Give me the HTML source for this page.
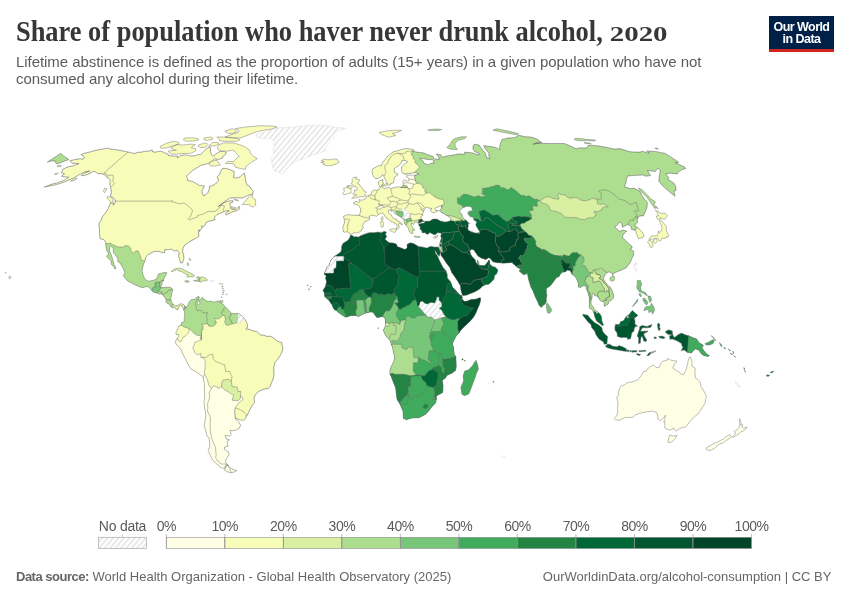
<!DOCTYPE html>
<html lang="en">
<head>
<meta charset="utf-8">
<title>Share of population who haver never drunk alcohol, 2020</title>
<style>
html,body{margin:0;padding:0;background:#fff;}
body{width:850px;height:600px;overflow:hidden;position:relative;font-family:"Liberation Sans",sans-serif;}
#chart{position:absolute;left:0;top:0;width:850px;height:600px;}
h1{position:absolute;left:16px;top:14px;margin:0;font-family:"Liberation Serif",serif;font-weight:bold;font-size:28.5px;line-height:36px;color:#373737;white-space:nowrap;transform:scaleX(0.9263);transform-origin:0 0;}
h1 .yr{display:inline-block;font-size:20.8px;transform:scaleX(1.5);transform-origin:0 100%;}
#sub{position:absolute;left:16px;top:52.7px;margin:0;font-size:15px;line-height:17.5px;color:#5b5b5b;white-space:nowrap;letter-spacing:-0.052px;}
#logo{position:absolute;left:769px;top:16px;width:65px;height:33px;background:#002147;border-bottom:3px solid #ce261e;color:#fff;font-weight:bold;font-size:12.5px;line-height:12px;text-align:center;letter-spacing:-0.55px;}
#logo span{display:block;}
#logo span:first-child{margin-top:5px;}
#src{position:absolute;left:16px;top:568.5px;margin:0;font-size:13px;line-height:16px;color:#666;white-space:nowrap;letter-spacing:0.015px;}
#src b{letter-spacing:-0.5px;}
#url{position:absolute;right:18.6px;top:568.5px;margin:0;font-size:13px;line-height:16px;color:#666;white-space:nowrap;}
svg text{font-family:"Liberation Sans",sans-serif;font-size:14px;fill:#5b5b5b;letter-spacing:-0.5px;}
svg text.nd{letter-spacing:-0.25px;}
#map path{stroke:#6b6b6b;stroke-width:0.45;stroke-linejoin:round;}
#map path.nd{stroke:#dcdcdc;}
</style>
</head>
<body>
<svg id="chart" width="850" height="600" viewBox="0 0 850 600">
<defs>
<pattern id="hatch" patternUnits="userSpaceOnUse" width="4.15" height="4.15" patternTransform="rotate(40)">
<rect width="4.15" height="4.15" fill="#fff"/>
<rect x="0" y="0" width="1.7" height="4.15" fill="#e7e7e7"/>
</pattern>
<clipPath id="c_na"><path d="M70,160.8 74.6,159.5 80.5,158.6 83.1,159.2 84,157.6 83.6,156.1 80.8,154.7 83.7,153.4 91.9,151.4 95.3,150.3 101.7,149.2 107.8,148 110.3,149 113.2,149.2 118.6,150.1 122.7,150.8 127.9,151.9 131,152.7 134.4,153.4 137.4,152.3 141,152.1 145.4,151.2 149,151 152.2,149.7 152.4,151.6 155.2,152.1 158.4,151.4 161.8,151.4 165.1,153 168.2,154.1 168.4,155.6 174.1,155.9 177.5,155.9 177.4,157.9 180.6,155.6 184.5,154.7 188.1,155.4 191.1,155.9 195.6,155.6 198.4,154.3 200.6,154.7 203,151.9 205.7,149.2 210,146.7 210.6,148.8 210.3,151 210.9,152.3 211.2,154.1 212.9,156.3 215.4,154.1 220,151.4 224.1,151.4 226.5,152.7 225.6,154.5 222.2,157.2 222.8,158.1 218.4,159.5 214.4,159 212.1,161.1 208.9,163.1 205.2,164.5 201.5,165.2 197.7,167.5 193.2,170.1 189.1,173.5 186.5,176.3 187.2,177.1 187.8,180.5 192.4,181.2 195.2,182.9 199.5,185.4 204.5,185.9 202.2,190.6 202.3,193.1 203,195.3 205.3,195.1 208,192.3 209.4,188.6 209.3,186.6 213.8,184.9 217,182.4 218.5,180 217,177.1 219.9,173.9 220.9,170.6 222.5,168.3 226.8,168.5 231.3,170.1 234.2,171.6 234.2,175.1 233.3,177.1 236,178 239.9,176.8 242.4,174.4 244.5,173 245.3,177.3 245.9,181.2 246.9,184.6 250,186.6 251.4,189.1 253.5,191.6 252.6,194.1 248.9,195.1 245.4,196.8 241.9,198.1 236,197.8 229.9,198.1 226.5,200.4 221.8,203.9 218.2,206.5 220.9,204.7 224.3,202.4 228.9,200.9 232.8,200.6 232.9,202.2 229.9,203.4 230.5,206.2 230.3,208.3 232.8,209.3 235.7,209.3 239.3,206.2 239.8,208.8 237,210.6 231.3,212.4 226,215.2 225.4,213.2 229.1,210.6 226.6,210.8 224.3,211.6 220.6,213.2 217,214.7 214.9,216.8 214.1,218.6 215.4,219.6 213.1,220.4 208.5,221.4 206,222.7 205.1,225.1 202.8,227.1 201.9,225.8 201.9,228.4 199.5,231.6 199,229.7 198.3,232.1 198.8,233.4 198.9,236.5 196.3,238.1 193,239.9 189.9,241.5 187.2,243.6 184.6,245.2 183,248.5 182.7,251.7 183.7,254.8 184,258.7 182.8,262.4 180.8,263.2 179.7,260.3 178.5,256.1 179.1,253 177.2,250.4 174.4,251.2 171.5,249.3 168.1,249.6 164.7,249.9 164.7,252.7 161.9,252.5 158.8,251.4 154.4,251.4 151.8,252.7 148,254.8 145.7,257.2 145.1,260.8 143.3,264.8 142.1,270.5 142.9,274.4 144.4,278.1 145.9,279.9 148,281.2 151.5,280.7 153.8,280.2 156.2,279.1 157.7,276.5 158.3,273.9 161.6,273.1 165.1,272.6 166.7,272.6 166.2,274.7 164.4,277.8 163.3,281 162.4,281 162.1,283.1 161.6,285.7 160,287.2 161.6,287.8 164.3,287.5 166.6,287.2 168.9,287.2 171.2,287.8 172.8,289.6 172.1,292.2 171.7,294.8 171,297.4 170.8,300 171.4,301.6 172.9,303.7 173.9,305 175.5,305.8 177.8,305.3 179.5,304.2 181.4,303.7 183.6,304.5 184.9,306.1 185.1,307.9 183.6,310 182.8,307.6 181.9,306.1 180.1,305.5 178.6,307.4 178.1,309.5 176.5,309.7 175.8,308.4 174.3,307.4 172.2,307.6 171.3,306.8 170.4,306.3 169.2,304 167.4,303.4 165.8,301.9 166.2,299.8 164.6,297.4 162.9,295.1 161.9,294 159.1,294 156.7,293 153.6,292.2 152.1,290.9 149.5,287.8 147.3,286.5 145.7,286.7 142.6,287.8 139.3,286.7 135.2,284.9 131.8,283.1 127.6,281 124.6,277.8 123.4,275.5 124.8,272.6 123.1,268.2 120.4,263.4 117.6,261.6 118,259 116.3,256.1 113.5,253 113.2,248.3 110.4,245.9 109.3,247.8 109.6,251.2 111.5,255.6 113.1,260.8 114,264.8 116.1,268.2 114.8,268.9 114.3,267.1 111.2,264.2 111.3,260.8 108.7,258.7 106.4,256.1 108.8,254 106.5,249.9 105.8,245.9 105.6,243.8 105.8,242 104,239.9 99.9,238.6 99.4,233.1 99.6,230 98.9,225.6 98.8,223.2 101.4,219.6 102,217 105.6,212.6 108.3,208.3 110.4,202.7 113.4,203.4 113.4,205.2 115,202.4 115.2,201.1 115.1,200.1 113.4,197.8 110.3,196.1 111.2,192.8 111.2,189.8 110.3,187.8 111,186.6 109.9,185.6 109.8,182.4 110.1,180 108.9,178.3 107.3,178 106.2,176.6 104.4,174.9 102.1,173.9 97.7,173.7 95.8,172 93,171.6 89.2,173.9 84.6,175.6 81.2,175.6 85,172.7 89.6,171.1 84.8,172 78.6,175.1 73.9,178 66.4,181.2 60,183.6 54.6,185.1 49.7,186.1 44.2,187.1 51.8,184.1 56.9,182.9 63.4,180.5 68.7,177.3 66.2,177.1 61.4,176.3 64.3,173.9 61.1,172.7 62.5,170.4 62.7,169.2 67.9,166.8 73.5,165.7 78.8,163.6 75.6,163.4 72,163.4 70.9,162.2Z"/></clipPath>
<clipPath id="c_sa"><path d="M184.9,306.1 186.2,307.9 187.7,305.3 189.5,301.4 191.2,299.8 194.3,299.3 197.4,296.9 198.8,296.3 199.4,298 198,298.7 198.6,300.3 201.9,298.7 202.4,296.9 203,298.7 206.1,300.6 206.8,301.4 211.4,301.1 213.6,302.4 216,301.4 220.6,300.8 219.8,302.7 222.7,304 224.9,306.6 225.4,307.1 228.3,309.7 230.5,312.3 231.4,313.4 235.1,313.4 238.5,313.6 241.9,315.7 243.7,317.8 245.3,319.7 247.6,324.4 247.5,327.5 245.9,328.8 249.9,329.3 252.2,330.6 256.8,331.4 260.3,334.8 263.7,335.1 267.2,336.4 270.7,336.1 274.2,338.5 277.7,341.3 281.6,342.4 282.8,347.4 282.5,351 280.3,355.5 278.1,358.9 274.8,362.8 273.8,368 274.2,374.5 272.9,379.8 271.7,382.4 270.3,386.3 268.2,388.7 265.6,388.9 262.7,389.7 258.8,391.5 255.2,394.9 254.2,398.1 254.5,402.8 252,405.9 249.9,409.8 248.4,413 246.2,416.9 245.2,419 243.5,420.3 240.6,420 236.9,418.7 235.4,417.7 235.9,419.5 238.7,421.6 239.6,423.7 240.6,425.2 239.3,428.4 236.6,429.9 232.6,430.7 229.9,430.2 231.2,434.6 229.7,436.2 225.2,435.4 226.3,439 229.4,439.8 227,441.6 227.9,446.2 224.6,447 224.3,449.3 228.3,451.9 229.2,453.9 227.3,457.7 225.6,460.3 226,463.3 228.3,465 225.5,465.8 224.7,468.5 221.5,467.8 218.4,465.3 213.8,461.5 210.7,456.5 208.7,451.4 208.1,450.3 209.9,446.2 209.5,442.4 209.1,438 206.8,435.9 206.2,432 204.3,426 204.9,421.6 205.9,415.1 204.5,407.2 204,402 204.8,395.5 204.4,390.2 204.3,383.7 203.1,376.6 200.7,375.1 196.5,371.9 191.2,369.1 188.3,365.1 186.1,360.4 183.3,354.9 181.2,350.2 178.9,346.6 176.1,344.5 175.5,341.1 177.5,337.9 178.4,336.6 178.8,334.6 176,334.6 176.2,331.4 178,328.5 178.3,326.4 181.1,325.1 181.8,322.3 184.1,322 184.2,318.3 184.8,314.4 184.5,311.3 183.6,310 185.3,308.1Z M228.1,465.5 229.7,467.3 233,469.5 236.9,470.5 234.9,471.7 231.5,472.7 228.4,472.2 224.6,470.3 225.5,468 225.3,466.3Z"/></clipPath>
<clipPath id="c_af"><path d="M350.2,235.2 351.5,235 354.3,236.8 356.5,236.5 358.2,237 360.8,235.5 363,234.7 366.2,233.4 369.5,232.6 373.8,232.6 378.1,232.1 381.6,232.4 384.1,231.3 385.2,231.6 386.7,232.1 385.7,233.7 386,235.2 386.9,236.8 385,239.1 386.9,240.7 388.2,242 390.4,243.1 392,242.8 396.4,244.1 397.2,246.5 400.6,247.8 405.1,249.6 407.2,247.8 407,244.6 410.2,242.8 413.5,243.6 418.1,246.2 422.6,247 427.1,248 429.2,246.7 431.4,246.2 434.3,247 438.5,247 440.5,251.7 439.7,255.6 439.3,256.4 437.6,254.8 435.6,251.2 435.1,250.6 435.5,253 437.7,256.1 439.1,259.5 441.7,264.8 443.2,267.4 446.4,271.3 447.5,275.2 447.4,277.8 450.6,281.7 452.7,287.5 455.6,290.1 458,293 460.4,295.3 461.8,295.6 462.4,298 461.2,298.7 462.4,299.3 464.1,301.6 467.5,301.1 470.9,299.5 475.5,299.3 479.6,297.7 480.7,298 480.4,301.4 479.2,305.3 477.7,308.4 475.9,313.1 473.7,317 470.3,321 467.6,323.6 463.4,327.5 460,331.2 459,333.2 456.5,335.6 454.6,339.3 453.4,341.1 452.4,344.5 453.5,346.6 453.9,351 454.5,354.9 455.8,356.2 456.1,361.5 456.3,366.7 455.5,370.6 451.9,373.2 447.2,375.3 445.5,377.9 442.2,380.6 443.1,385 443,390.2 442.4,392.8 437.1,395.5 436.1,396.8 436.6,398.9 435.4,403.3 431.7,407 429.2,410.6 425.6,414.3 424.2,415.1 419.2,417.7 414.3,417.9 411,418.2 406.6,419.8 403.4,418.5 403.1,415.1 403.1,411.7 401.3,407.2 399.7,403.6 397,399.4 395.7,388.9 395.7,388.1 393.4,382.4 391.4,377.2 389.9,374 389.9,370.6 391.1,366.7 393.7,361.5 394.7,357.6 393.4,352.3 392.5,347.1 391.3,344.7 391.1,343.7 390.2,340.8 388.4,338.7 385.4,335.3 383.8,331.4 383.1,330.4 384.5,328 385.2,326.2 385.6,322.8 385.4,319.1 383.5,317 382.6,316.5 379.1,317.3 376.8,317.6 374.5,314.4 373.1,312.3 370.8,312.1 369.2,312.3 366.7,312.6 365.8,312.9 363,314.2 358.4,316.5 355.9,315.5 351.5,315.5 345.7,317.3 342.2,315.2 338.1,312.3 336.5,310.8 334.2,309.5 332.6,306.6 332.4,305.3 330.8,303.2 329,300.6 328.6,300 326.3,298 324.7,296.6 324.5,294.6 324.5,293.2 323,290.4 325.3,287 326.6,281.7 325.5,278.1 326.3,276 324.4,274.4 324.5,272.9 326.9,267.4 329.3,264.8 330.5,260.8 334,256.4 337.4,254.3 340.8,251.7 341.5,249.1 341.4,246.5 343.2,243.1 346.6,241 348.1,239.9 350,236.8Z"/></clipPath>
<clipPath id="c_ea"><path d="M343.6,232.1 342.7,227.7 344.1,223.8 344.6,221.2 343.5,216.5 345.7,215.2 348.4,214.7 352.6,215.2 355.1,215.2 359.2,215.5 360.3,212.6 360.7,209.6 360.5,208.3 358.5,205.7 356.9,204.7 353.9,203.9 353.5,202.7 355.9,201.6 359,202.2 360,201.9 359.4,199.4 360.8,200.1 363.2,199.9 366,198.4 366.2,196.3 368,195.8 369.7,195.1 371.1,193.6 372.2,191.1 373.7,190.1 376.7,190.1 379,189.6 379.7,188.8 380.3,187.8 379.6,186.1 378.5,184.6 378.4,181.9 379.3,181 383,179.5 382.6,182.2 383.8,182.7 382.2,184.9 381.7,186.1 382.4,187.3 384.4,188.6 386.7,188.1 389.1,187.3 390.6,188.8 394.9,187.3 398.8,186.8 401,187.6 401.6,186.4 403.4,185.4 403.1,183.2 402.8,181.2 403.9,179.7 406.6,181.2 409,180.7 408.8,178.3 406.9,177.1 406.5,175.9 409.3,175.1 414.9,175.1 418.9,174.2 415.6,172.5 414,172.7 409,173.5 405.5,174.4 402.1,172.5 401.7,170.4 401.5,166.8 403.4,165.2 406.1,162.7 407.5,162 406.6,160.8 404.9,160.4 401.7,160.8 400.9,163.4 399.5,165.2 396.2,167.3 394.2,168.5 394.4,171.6 394.7,172.5 397.5,173.7 398,174.9 396.6,175.6 394.2,177.6 394.1,180 393.5,182.9 390.7,183.4 390.3,185.1 388,185.1 387.2,183.2 385.4,179.5 383.8,176.3 382.6,174.4 381.6,176.3 378,178.5 375.4,178.5 373.2,176.3 372.2,173.2 372.1,170.4 372.9,168.7 375.6,167.3 378.1,165.7 381.5,165.7 382.3,162.7 384.7,159.9 387,157 389.3,155 390.8,153.6 393.8,151.6 397.8,150.8 400.9,149.7 405.2,148.6 408.9,148.8 414.2,150.1 411.2,151.4 414.2,151.4 418.1,152.3 423.3,152.7 428.1,154.7 433,156.5 434.3,158.8 432.4,159.7 428.9,159.7 423.4,158.8 419.8,158.3 423.2,161.1 424.4,163.4 428.7,164.7 430,163.4 434.3,163.1 432.8,161.1 435.6,159 439.2,159.5 438.5,156.5 436,154.1 440.8,154.7 442.8,157.6 444.9,156.3 452.8,155 454.4,154.7 455.9,154.3 459.9,153.8 464.3,154.3 464.8,152.1 470.1,152.5 473.8,153.2 476,154.1 479,155 479.1,153.6 474.6,151.6 472.8,148.8 473.2,145.6 474.5,144.1 479.1,145 481.8,148.8 485.5,153.2 486.6,157.6 489.9,158.8 488.6,155.4 488.9,153.2 485.1,148.8 483.6,145.6 488.9,146.3 492.5,146.7 496.6,147.7 499.9,149.9 499.5,147.3 500.5,142.9 501.9,139.4 508.1,138 515,137.4 518.6,135.1 524.6,136.6 531.2,137 536.6,138.8 541.9,142.5 533.5,144.1 536.9,142.9 542.1,143.3 550.3,143.5 558.2,143.5 564.5,143.5 571.3,146.3 576.1,148.8 579.6,147.7 586.4,148 588.1,145.6 590.8,145.2 598.1,145.8 606.7,147.3 614.1,149 620,148.6 629.4,151.6 633.1,151.9 640.1,152.1 642.1,151.2 649.2,153.2 646.7,151 655.7,151.4 665.5,153.4 678.8,162.2 678,162.9 675.4,162.9 677.9,164 684.5,166.8 685.8,168.5 682,169.7 679,171.6 677.4,173.9 670.1,173.2 665.7,174.2 668.8,177.6 667.9,179.3 674.1,183.2 675.9,186.6 676.1,190.6 673.9,191.3 674.9,195.6 675,196.3 669.9,192.3 662.8,186.1 658.7,181.2 658.9,178.8 659.4,175.1 660.2,170.4 658.2,168 655.2,171.6 647.5,170.4 650.7,175.6 645.9,176.3 642.8,175.1 634,175.6 627.8,175.9 626.5,179.3 625.9,183.6 624.3,186.6 630.3,188.6 633.8,188.1 639.9,191.1 641.5,194.8 644.2,198.6 647.4,202.4 647,207.5 645.5,211.4 643.3,216 639.7,216 637.8,218.3 637.1,220.4 637.9,222.2 635.4,224.3 635,225.6 637.9,227.9 641.8,231.6 643.7,234.7 644,236.8 640.9,238.1 638.5,238.6 636.4,233.4 635.8,230.8 634,230 631.6,229.5 630.6,226.1 627.6,224.5 623.8,226.6 622.4,227.4 621.6,223.5 619.3,221.9 617.6,224.8 614.7,226.9 617.6,229.5 619.5,231.3 622.6,230 626.9,231.1 624.6,233.1 622.6,236 622.7,237.8 626.4,241.2 629,243.8 631.7,245.9 632.2,248 629.9,249.6 633.6,250.9 633.7,254.8 632.3,257.7 631.1,260.8 630.2,262.9 628.4,265 626.1,267.9 622.5,269.5 620.9,270.5 618.4,271.3 615.2,272.6 613.1,273.4 613,275.7 611.4,272.6 608.3,272.1 607.3,272.6 605.3,274.4 604.5,276 603.4,279.1 605.5,282.3 608.2,285.7 610.2,287 612.3,290.9 613.5,294.8 613.6,298 611.1,300.6 608.8,301.6 608.3,304 605.3,306.1 604.1,306.3 604.4,303.2 603.1,301.6 600.8,301.1 599.5,299.3 599.1,298.2 596.9,296.1 594.5,295.6 594.1,293.5 592.1,294 592.2,297.4 591.1,300.6 591.1,304.5 593.1,306.6 594.4,309.7 596.8,311 598.3,312.6 600.4,314.4 601.5,317 601.9,321 603.6,325.1 602,325.4 599.6,323.3 596.8,321.2 595.1,317.8 594.2,314.4 593.6,312.1 592.1,309.7 589.3,308.1 589.3,304 589.5,301.6 589.2,297.4 587.8,292.2 586.2,288.3 585.6,285.7 583.1,285.7 580.6,287.5 578.3,287 578.2,283.1 576.6,279.1 575.1,276.5 572,274.4 570.3,270.5 567.3,270 565.3,271.8 564.2,272.1 562,272.3 560.1,274.7 559.2,276.5 556.4,277.8 554.1,281 550.7,285.4 548,287.5 546.3,288.8 546.4,293.5 547,294.8 546.2,298.7 546.4,301.9 544.7,304.5 542.9,305.5 541.4,307.6 539,305.3 538.1,302.7 535.8,298 534.4,294.8 533,290.9 530.8,287 528.4,279.1 527.7,275.2 527.2,272.6 526.5,273.9 523.4,274.7 518.9,270.8 521,269.2 518.1,267.9 516.6,266.8 514.4,264.8 512.9,263.7 512.3,262.4 507.8,262.9 502.3,263.2 501.3,262.9 497.7,262.7 493.1,261.9 490.5,258.7 488.8,257.7 485.7,259.5 481.5,258.2 477.9,255.9 475.9,253 473.8,249.9 471.5,249.3 470.7,250.4 469.4,250.4 470,251.7 470.7,254 471.9,256.4 474.2,258.7 475.4,260.1 475.7,262.1 477.2,264 477.3,260.6 478,260.6 478.9,263.4 478.6,264.8 481.1,265.5 484.5,265.5 485.6,264.8 487.2,262.7 488.5,260.8 489.3,259.8 489.7,263.4 490.3,264.8 492.5,266.6 495,267.1 498,270 496.6,273.9 494.5,275.5 494.1,279.1 491.6,281.7 488.4,284.4 486.1,284.4 482.8,285.9 479.6,289.1 475.1,291.7 470.6,293.5 466.1,295.3 462.7,295.6 462,294 460.8,289.6 460.4,285.9 458.1,281.7 454.9,277 451.7,272.6 449.8,267.4 446.6,263.4 443.5,258.7 441,255.3 440.5,251.7 438.5,247 439.1,246.2 439.8,243.1 440.6,240.2 441.3,238.4 440.8,236 441,234.7 441.3,233.1 439.8,233.1 437.7,232.6 435.6,234.4 433.4,234.4 430,232.6 429.1,232.6 428.8,233.9 426.9,234.2 424.6,232.6 422.4,232.9 421.8,230.8 419.9,228.7 420.3,226.9 418.9,225.6 418.8,224.3 421.4,223.2 424.6,223 424.6,221.7 425.4,221.2 429.6,221.2 433.1,219.1 436.7,219.1 440.2,220.9 444.6,221.9 447.7,221.7 450.6,220.4 450.8,218.8 448.9,216.5 446.6,215.5 444.2,213.9 440.7,212.1 439.4,210.6 441.2,208.8 441.6,206 442.6,205.7 439.7,206.2 436.8,207.3 434.9,208.3 436.3,210.6 438.4,210.6 436.3,211.4 433.6,212.9 432.3,212.4 430.1,210.3 432.1,208.5 428.7,208 427.6,207.3 425.9,207.5 424.1,210.3 422.5,213.9 422.8,215.5 421.4,216 420.7,217.8 422,219.1 422.5,220.4 424.3,221.2 422.3,221.7 420.3,222.5 418.7,223.5 418.1,222.2 414.9,221.9 414,223.5 413.7,224.4 411.6,223 411.1,224.8 412.1,226.4 413.2,228.7 414.6,229.5 414.6,230.3 412.5,230 412.6,231.3 413,233.4 411.5,233.4 409.9,232.6 408.8,230.3 408.7,228.7 407.5,227.1 406.1,225.3 404.4,223.2 404,220.9 403.9,219.4 401.8,217.8 399.6,216.5 397.5,215.2 394.8,213.7 393.8,211.4 392.5,210.6 391.1,211.4 391.2,209.8 388.4,210.3 388.7,212.6 391.2,215 392.8,217.8 395.7,219.4 396.7,219.4 396.8,220.7 400.1,221.9 402.3,223.8 402.2,224.8 399.1,223 398.4,225.1 399.6,226.9 398.4,228.4 396.7,229.7 396.8,227.7 397.3,225.6 396,224 393.8,222.7 393.1,222.2 390.5,221.2 388.7,219.6 386.1,217.8 384.5,215.2 383.4,213.7 381.5,212.9 378.6,214.5 376.6,216.3 374.3,215.7 371.4,215.2 369.3,216.5 369.7,218.1 369.7,219.4 367.6,220.7 364.9,221.7 363.4,224.3 362.4,225.6 363.4,227.7 361.9,228.7 361.5,230.5 358.2,232.9 353.5,232.9 351.3,234.4 349.4,233.4 347,231.6 345.7,232.1Z M60.5,153.4 61.5,153.8 63.5,155.9 66,157.6 67.8,158.8 68.8,159.7 64.6,161.1 58.8,163.4 56.9,163.8 55.4,162.7 55.9,161.1 51.5,161.1 48.8,161.7 47.2,162.2Z"/></clipPath>
<clipPath id="c_borneo"><path d="M614.7,328 615.3,324.4 617,324.4 619.7,324.6 620.1,322 623.8,320.4 625.9,316.8 627,316 629.3,314.4 630.8,312.3 632.5,310.5 634.2,312.3 637.8,315.2 635.9,317.3 634.3,317.8 635.1,321 635,324.1 637.8,326.2 635.2,326.7 634.3,328.8 634.1,330.9 632,332.7 631.2,336.4 630.6,338.7 627.6,339.5 627.2,337.7 623.8,337.4 621,337.7 617.3,336.4 617,333 615.1,330.4Z"/></clipPath>
<clipPath id="c_ng"><path d="M665.9,330.9 668.9,329.8 672.4,330.9 672.8,334.8 674.5,337.4 678.1,334.6 681.6,333 686.2,335.1 688.5,335.6 693,337.7 696.4,338.7 699.1,342.7 702.3,344.5 703.5,346.3 701.6,346.6 703.6,350.2 706.7,353.9 709.5,355.7 707.6,356.5 703.1,355.2 701,353.6 699,350.2 695.7,348.9 693.3,350.5 691.9,352.8 687.3,352.6 684.1,350 681,350.8 682.7,347.6 681.1,343.2 676.7,340.8 672.2,339 669.8,339.5 669.5,336.1 671.9,334.8 668.4,334.8 665.5,332.5Z"/></clipPath>
</defs>
<g id="map">
<g clip-path="url(#c_na)">
<path d="M70,160.8 74.6,159.5 80.5,158.6 83.1,159.2 84,157.6 83.6,156.1 80.8,154.7 83.7,153.4 91.9,151.4 95.3,150.3 101.7,149.2 107.8,148 110.3,149 113.2,149.2 118.6,150.1 122.7,150.8 127.9,151.9 131,152.7 134.4,153.4 137.4,152.3 141,152.1 145.4,151.2 149,151 152.2,149.7 152.4,151.6 155.2,152.1 158.4,151.4 161.8,151.4 165.1,153 168.2,154.1 168.4,155.6 174.1,155.9 177.5,155.9 177.4,157.9 180.6,155.6 184.5,154.7 188.1,155.4 191.1,155.9 195.6,155.6 198.4,154.3 200.6,154.7 203,151.9 205.7,149.2 210,146.7 210.6,148.8 210.3,151 210.9,152.3 211.2,154.1 212.9,156.3 215.4,154.1 220,151.4 224.1,151.4 226.5,152.7 225.6,154.5 222.2,157.2 222.8,158.1 218.4,159.5 214.4,159 212.1,161.1 208.9,163.1 205.2,164.5 201.5,165.2 197.7,167.5 193.2,170.1 189.1,173.5 186.5,176.3 187.2,177.1 187.8,180.5 192.4,181.2 195.2,182.9 199.5,185.4 204.5,185.9 202.2,190.6 202.3,193.1 203,195.3 205.3,195.1 208,192.3 209.4,188.6 209.3,186.6 213.8,184.9 217,182.4 218.5,180 217,177.1 219.9,173.9 220.9,170.6 222.5,168.3 226.8,168.5 231.3,170.1 234.2,171.6 234.2,175.1 233.3,177.1 236,178 239.9,176.8 242.4,174.4 244.5,173 245.3,177.3 245.9,181.2 246.9,184.6 250,186.6 251.4,189.1 253.5,191.6 252.6,194.1 248.9,195.1 245.4,196.8 241.9,198.1 236,197.8 229.9,198.1 226.5,200.4 221.8,203.9 218.2,206.5 220.9,204.7 224.3,202.4 228.9,200.9 232.8,200.6 232.9,202.2 229.9,203.4 230.5,206.2 230.3,208.3 232.8,209.3 235.7,209.3 239.3,206.2 239.8,208.8 237,210.6 231.3,212.4 226,215.2 225.4,213.2 229.1,210.6 226.6,210.8 224.3,211.6 220.6,213.2 217,214.7 214.9,216.8 214.1,218.6 215.4,219.6 213.1,220.4 208.5,221.4 206,222.7 205.1,225.1 202.8,227.1 201.9,225.8 201.9,228.4 199.5,231.6 199,229.7 198.3,232.1 198.8,233.4 198.9,236.5 196.3,238.1 193,239.9 189.9,241.5 187.2,243.6 184.6,245.2 183,248.5 182.7,251.7 183.7,254.8 184,258.7 182.8,262.4 180.8,263.2 179.7,260.3 178.5,256.1 179.1,253 177.2,250.4 174.4,251.2 171.5,249.3 168.1,249.6 164.7,249.9 164.7,252.7 161.9,252.5 158.8,251.4 154.4,251.4 151.8,252.7 148,254.8 145.7,257.2 145.1,260.8 143.3,264.8 142.1,270.5 142.9,274.4 144.4,278.1 145.9,279.9 148,281.2 151.5,280.7 153.8,280.2 156.2,279.1 157.7,276.5 158.3,273.9 161.6,273.1 165.1,272.6 166.7,272.6 166.2,274.7 164.4,277.8 163.3,281 162.4,281 162.1,283.1 161.6,285.7 160,287.2 161.6,287.8 164.3,287.5 166.6,287.2 168.9,287.2 171.2,287.8 172.8,289.6 172.1,292.2 171.7,294.8 171,297.4 170.8,300 171.4,301.6 172.9,303.7 173.9,305 175.5,305.8 177.8,305.3 179.5,304.2 181.4,303.7 183.6,304.5 184.9,306.1 185.1,307.9 183.6,310 182.8,307.6 181.9,306.1 180.1,305.5 178.6,307.4 178.1,309.5 176.5,309.7 175.8,308.4 174.3,307.4 172.2,307.6 171.3,306.8 170.4,306.3 169.2,304 167.4,303.4 165.8,301.9 166.2,299.8 164.6,297.4 162.9,295.1 161.9,294 159.1,294 156.7,293 153.6,292.2 152.1,290.9 149.5,287.8 147.3,286.5 145.7,286.7 142.6,287.8 139.3,286.7 135.2,284.9 131.8,283.1 127.6,281 124.6,277.8 123.4,275.5 124.8,272.6 123.1,268.2 120.4,263.4 117.6,261.6 118,259 116.3,256.1 113.5,253 113.2,248.3 110.4,245.9 109.3,247.8 109.6,251.2 111.5,255.6 113.1,260.8 114,264.8 116.1,268.2 114.8,268.9 114.3,267.1 111.2,264.2 111.3,260.8 108.7,258.7 106.4,256.1 108.8,254 106.5,249.9 105.8,245.9 105.6,243.8 105.8,242 104,239.9 99.9,238.6 99.4,233.1 99.6,230 98.9,225.6 98.8,223.2 101.4,219.6 102,217 105.6,212.6 108.3,208.3 110.4,202.7 113.4,203.4 113.4,205.2 115,202.4 115.2,201.1 115.1,200.1 113.4,197.8 110.3,196.1 111.2,192.8 111.2,189.8 110.3,187.8 111,186.6 109.9,185.6 109.8,182.4 110.1,180 108.9,178.3 107.3,178 106.2,176.6 104.4,174.9 102.1,173.9 97.7,173.7 95.8,172 93,171.6 89.2,173.9 84.6,175.6 81.2,175.6 85,172.7 89.6,171.1 84.8,172 78.6,175.1 73.9,178 66.4,181.2 60,183.6 54.6,185.1 49.7,186.1 44.2,187.1 51.8,184.1 56.9,182.9 63.4,180.5 68.7,177.3 66.2,177.1 61.4,176.3 64.3,173.9 61.1,172.7 62.5,170.4 62.7,169.2 67.9,166.8 73.5,165.7 78.8,163.6 75.6,163.4 72,163.4 70.9,162.2Z" fill="#f7fcb9" stroke="none"/>
<path d="M104.7,243.8 111.1,243.3 110.7,243.8 118,247 124.2,247 124.6,245.7 128.3,245.7 130.8,248.5 131.1,251.4 133.5,253 135.6,250.9 138.1,250.9 139.4,253.8 140.8,256.9 141.1,259.8 144.4,261.1 146.6,261.1 168.7,271.3 166.3,280.4 164,280.4 162.2,280.4 160.1,281.9 160,282.2 160,282.2 155.9,282.2 155.7,283.7 154.7,283.7 156.5,286.8 153.7,286.8 152.3,288.8 152.1,290.8 151.2,291.2 145.6,292.2 121.8,281.7 109.9,271.3 99.9,255.6 101.4,243.8Z" fill="#addd8e"/>
<path d="M151.2,291.2 152.1,290.8 152.3,288.8 153.7,286.8 156.5,286.8 154.7,283.7 155.7,283.7 155.9,282.2 160,282.2 160,282.2 159.3,287.2 160,287.2 160.9,287.5 162.1,287 161.5,287.8 159.1,289.9 158.6,291.2 156.7,292.9 156.1,294.3 151.1,294Z" fill="#78c679"/>
<path d="M160,282.2 160.1,281.9 162.2,280.4 164,280.4 163.2,287.5 160,287.2 159.3,287.2Z" fill="#addd8e"/>
<path d="M161.5,287.8 159.1,289.9 158.6,291.2 160.4,292.2 162,292.5 161.9,293.8 162.9,294.9 164.4,294 165.9,292.5 166.8,292.5 168.9,290.1 172.8,289.6 174.5,288.8 173.8,284.4 162.4,284.4Z" fill="#addd8e"/>
<path d="M158.6,291.2 160.4,292.2 162,292.5 161.8,294.8 156.1,294.3 156.7,292.9Z" fill="#addd8e"/>
<path d="M162.9,294.9 164.4,294 165.9,292.5 166.8,292.5 168.9,290.1 172.8,289.6 174.5,288.8 172.8,300.3 170.8,300.3 168.5,299.8 166.2,299.8 164.3,300.6 160.6,295.3Z" fill="#addd8e"/>
<path d="M164.3,300.6 166.2,299.8 168.5,299.8 170.8,300.3 172.8,300.3 173.8,303.4 172.3,305 172.2,307.9 170.7,309.2 164.1,304Z" fill="#addd8e"/>
<path d="M173.8,303.4 172.3,305 172.2,307.9 171.8,311.8 184.4,311.8 183.6,310 185.3,308.1 184.9,306.1 186,302.7 174.6,302.1Z" fill="#d9f0a3"/>
<path d="M110.8,201.1 170.9,201.1 172.1,200.4 171.7,201.9 174.9,202.2 177.3,203.4 181,203.7 183.8,202.9 187.5,205.5 189.7,207.5 191.3,208.8 192.6,210.6 190.5,216.5 188.2,218.6 189,219.9 197.4,217 197.5,215.5 203.7,213.9 207.8,211.4 215,211.4 216.8,210.3 218.6,208.3 219.6,207 221.9,205.2 222.3,205.7 223.9,205.5 224.5,206 223.3,209.6 223.7,210.8 224.4,211.9" fill="none"/>
<path d="M130.5,149.9 103.7,173.2 106.7,173.9 107,176.3 110.1,175.1 112.9,175.1 113.3,177.6 112.8,181.2 114.5,183.6 110.9,187.3" fill="none"/>
</g>
<path d="M70,160.8 74.6,159.5 80.5,158.6 83.1,159.2 84,157.6 83.6,156.1 80.8,154.7 83.7,153.4 91.9,151.4 95.3,150.3 101.7,149.2 107.8,148 110.3,149 113.2,149.2 118.6,150.1 122.7,150.8 127.9,151.9 131,152.7 134.4,153.4 137.4,152.3 141,152.1 145.4,151.2 149,151 152.2,149.7 152.4,151.6 155.2,152.1 158.4,151.4 161.8,151.4 165.1,153 168.2,154.1 168.4,155.6 174.1,155.9 177.5,155.9 177.4,157.9 180.6,155.6 184.5,154.7 188.1,155.4 191.1,155.9 195.6,155.6 198.4,154.3 200.6,154.7 203,151.9 205.7,149.2 210,146.7 210.6,148.8 210.3,151 210.9,152.3 211.2,154.1 212.9,156.3 215.4,154.1 220,151.4 224.1,151.4 226.5,152.7 225.6,154.5 222.2,157.2 222.8,158.1 218.4,159.5 214.4,159 212.1,161.1 208.9,163.1 205.2,164.5 201.5,165.2 197.7,167.5 193.2,170.1 189.1,173.5 186.5,176.3 187.2,177.1 187.8,180.5 192.4,181.2 195.2,182.9 199.5,185.4 204.5,185.9 202.2,190.6 202.3,193.1 203,195.3 205.3,195.1 208,192.3 209.4,188.6 209.3,186.6 213.8,184.9 217,182.4 218.5,180 217,177.1 219.9,173.9 220.9,170.6 222.5,168.3 226.8,168.5 231.3,170.1 234.2,171.6 234.2,175.1 233.3,177.1 236,178 239.9,176.8 242.4,174.4 244.5,173 245.3,177.3 245.9,181.2 246.9,184.6 250,186.6 251.4,189.1 253.5,191.6 252.6,194.1 248.9,195.1 245.4,196.8 241.9,198.1 236,197.8 229.9,198.1 226.5,200.4 221.8,203.9 218.2,206.5 220.9,204.7 224.3,202.4 228.9,200.9 232.8,200.6 232.9,202.2 229.9,203.4 230.5,206.2 230.3,208.3 232.8,209.3 235.7,209.3 239.3,206.2 239.8,208.8 237,210.6 231.3,212.4 226,215.2 225.4,213.2 229.1,210.6 226.6,210.8 224.3,211.6 220.6,213.2 217,214.7 214.9,216.8 214.1,218.6 215.4,219.6 213.1,220.4 208.5,221.4 206,222.7 205.1,225.1 202.8,227.1 201.9,225.8 201.9,228.4 199.5,231.6 199,229.7 198.3,232.1 198.8,233.4 198.9,236.5 196.3,238.1 193,239.9 189.9,241.5 187.2,243.6 184.6,245.2 183,248.5 182.7,251.7 183.7,254.8 184,258.7 182.8,262.4 180.8,263.2 179.7,260.3 178.5,256.1 179.1,253 177.2,250.4 174.4,251.2 171.5,249.3 168.1,249.6 164.7,249.9 164.7,252.7 161.9,252.5 158.8,251.4 154.4,251.4 151.8,252.7 148,254.8 145.7,257.2 145.1,260.8 143.3,264.8 142.1,270.5 142.9,274.4 144.4,278.1 145.9,279.9 148,281.2 151.5,280.7 153.8,280.2 156.2,279.1 157.7,276.5 158.3,273.9 161.6,273.1 165.1,272.6 166.7,272.6 166.2,274.7 164.4,277.8 163.3,281 162.4,281 162.1,283.1 161.6,285.7 160,287.2 161.6,287.8 164.3,287.5 166.6,287.2 168.9,287.2 171.2,287.8 172.8,289.6 172.1,292.2 171.7,294.8 171,297.4 170.8,300 171.4,301.6 172.9,303.7 173.9,305 175.5,305.8 177.8,305.3 179.5,304.2 181.4,303.7 183.6,304.5 184.9,306.1 185.1,307.9 183.6,310 182.8,307.6 181.9,306.1 180.1,305.5 178.6,307.4 178.1,309.5 176.5,309.7 175.8,308.4 174.3,307.4 172.2,307.6 171.3,306.8 170.4,306.3 169.2,304 167.4,303.4 165.8,301.9 166.2,299.8 164.6,297.4 162.9,295.1 161.9,294 159.1,294 156.7,293 153.6,292.2 152.1,290.9 149.5,287.8 147.3,286.5 145.7,286.7 142.6,287.8 139.3,286.7 135.2,284.9 131.8,283.1 127.6,281 124.6,277.8 123.4,275.5 124.8,272.6 123.1,268.2 120.4,263.4 117.6,261.6 118,259 116.3,256.1 113.5,253 113.2,248.3 110.4,245.9 109.3,247.8 109.6,251.2 111.5,255.6 113.1,260.8 114,264.8 116.1,268.2 114.8,268.9 114.3,267.1 111.2,264.2 111.3,260.8 108.7,258.7 106.4,256.1 108.8,254 106.5,249.9 105.8,245.9 105.6,243.8 105.8,242 104,239.9 99.9,238.6 99.4,233.1 99.6,230 98.9,225.6 98.8,223.2 101.4,219.6 102,217 105.6,212.6 108.3,208.3 110.4,202.7 113.4,203.4 113.4,205.2 115,202.4 115.2,201.1 115.1,200.1 113.4,197.8 110.3,196.1 111.2,192.8 111.2,189.8 110.3,187.8 111,186.6 109.9,185.6 109.8,182.4 110.1,180 108.9,178.3 107.3,178 106.2,176.6 104.4,174.9 102.1,173.9 97.7,173.7 95.8,172 93,171.6 89.2,173.9 84.6,175.6 81.2,175.6 85,172.7 89.6,171.1 84.8,172 78.6,175.1 73.9,178 66.4,181.2 60,183.6 54.6,185.1 49.7,186.1 44.2,187.1 51.8,184.1 56.9,182.9 63.4,180.5 68.7,177.3 66.2,177.1 61.4,176.3 64.3,173.9 61.1,172.7 62.5,170.4 62.7,169.2 67.9,166.8 73.5,165.7 78.8,163.6 75.6,163.4 72,163.4 70.9,162.2Z" fill="none"/>
<g clip-path="url(#c_sa)">
<path d="M184.9,306.1 186.2,307.9 187.7,305.3 189.5,301.4 191.2,299.8 194.3,299.3 197.4,296.9 198.8,296.3 199.4,298 198,298.7 198.6,300.3 201.9,298.7 202.4,296.9 203,298.7 206.1,300.6 206.8,301.4 211.4,301.1 213.6,302.4 216,301.4 220.6,300.8 219.8,302.7 222.7,304 224.9,306.6 225.4,307.1 228.3,309.7 230.5,312.3 231.4,313.4 235.1,313.4 238.5,313.6 241.9,315.7 243.7,317.8 245.3,319.7 247.6,324.4 247.5,327.5 245.9,328.8 249.9,329.3 252.2,330.6 256.8,331.4 260.3,334.8 263.7,335.1 267.2,336.4 270.7,336.1 274.2,338.5 277.7,341.3 281.6,342.4 282.8,347.4 282.5,351 280.3,355.5 278.1,358.9 274.8,362.8 273.8,368 274.2,374.5 272.9,379.8 271.7,382.4 270.3,386.3 268.2,388.7 265.6,388.9 262.7,389.7 258.8,391.5 255.2,394.9 254.2,398.1 254.5,402.8 252,405.9 249.9,409.8 248.4,413 246.2,416.9 245.2,419 243.5,420.3 240.6,420 236.9,418.7 235.4,417.7 235.9,419.5 238.7,421.6 239.6,423.7 240.6,425.2 239.3,428.4 236.6,429.9 232.6,430.7 229.9,430.2 231.2,434.6 229.7,436.2 225.2,435.4 226.3,439 229.4,439.8 227,441.6 227.9,446.2 224.6,447 224.3,449.3 228.3,451.9 229.2,453.9 227.3,457.7 225.6,460.3 226,463.3 228.3,465 225.5,465.8 224.7,468.5 221.5,467.8 218.4,465.3 213.8,461.5 210.7,456.5 208.7,451.4 208.1,450.3 209.9,446.2 209.5,442.4 209.1,438 206.8,435.9 206.2,432 204.3,426 204.9,421.6 205.9,415.1 204.5,407.2 204,402 204.8,395.5 204.4,390.2 204.3,383.7 203.1,376.6 200.7,375.1 196.5,371.9 191.2,369.1 188.3,365.1 186.1,360.4 183.3,354.9 181.2,350.2 178.9,346.6 176.1,344.5 175.5,341.1 177.5,337.9 178.4,336.6 178.8,334.6 176,334.6 176.2,331.4 178,328.5 178.3,326.4 181.1,325.1 181.8,322.3 184.1,322 184.2,318.3 184.8,314.4 184.5,311.3 183.6,310 185.3,308.1Z M228.1,465.5 229.7,467.3 233,469.5 236.9,470.5 234.9,471.7 231.5,472.7 228.4,472.2 224.6,470.3 225.5,468 225.3,466.3Z" fill="#f7fcb9" stroke="none"/>
<path d="M240.5,395.7 242.7,397.5 242.8,399.9 238.7,402.8 235.4,407.7 235.4,407.7 234.8,412.4 235.4,417.7 241.6,422.9 236.7,438.5 238.7,459 243.6,476.4 211.4,476.4 182.2,386.3 213.6,383.7 227.4,386.3 233.6,391.5 237.4,396.2Z" fill="#ffffe5"/>
<path d="M228.3,465 224.8,464 220.8,464 219.1,461.5 217.4,460.8 215.6,457.7 216.2,455.2 215.8,451.4 215.5,447.5 213.7,443.7 211.8,438.5 210.6,433.3 210.2,428.1 210.2,422.9 210.6,418.2 209.4,415.1 207.5,411.1 207.8,407.2 207.6,403.3 209.6,397.5 209.2,392.8 211.4,388.4 212.6,373.2 198.9,373.2 185.7,407.2 211.4,476.4 233,476.4 228.1,465.5Z" fill="#ffffe5"/>
<path d="M235.4,407.7 239.2,409.3 240.4,409.8 244.1,412.2 246.2,414.3 246.2,416.9 250,421.6 239.9,420.8 236.8,419.2 235.4,417.7 234.8,412.4 235.4,407.7Z" fill="#f7fcb9"/>
<path d="M231.2,381.5 232.2,386.6 237.2,387.1 238,391.3 240.8,391.5 240.5,395.7 240.5,395.7 240.4,398.6 238.4,400.4 236.8,400.7 232.1,400.2 233.7,395.2 230.8,393.6 227.9,391.5 225.1,390.2 221.5,387 221.5,387 219.9,378.5 230.9,378.5Z" fill="#d9f0a3"/>
<path d="M203.2,357.4 205.7,357.6 209.9,354.7 212.9,354.4 213.1,358.9 215.6,361.5 219.1,362.8 222.1,364.1 224.7,364.9 225.6,371.4 229.7,371.4 230.2,374 232.1,375.9 231.7,378.5 231.2,381.5 231.2,381.5 228.8,379.3 223,380 221.8,382.4 221.5,387 221.5,387 217.9,388.4 217.3,386.8 215.7,386.6 213.3,385.8 211.4,388.4 211.4,388.4 208.7,385 207.5,379.8 204.7,374.5 198.9,373.2 197.7,357.6Z" fill="#f7fcb9"/>
<path d="M201.6,339.8 194.9,342.4 192.8,348.1 195.1,352.8 197.1,354.9 200.7,353.6 200.9,357.6 203.2,357.4 203.2,357.4 205.5,361.5 205,364.6 205.3,368.8 204.3,370.6 204.7,374.5 204.7,374.5 203.1,376.6 199.7,381.1 171.7,344.5 173.7,326.2 192.1,326.2 201.5,331.4Z" fill="#ffffe5"/>
<path d="M208.6,325.6 207.6,323.6 205.5,324.1 201.9,324.4 201.8,325.9 203.2,326.2 202.8,330.1 201.4,329.3 201.6,339.8 201.6,339.8 199.9,338.7 201.2,335.9 196.8,335.1 194,333.5 191,330.1 189.4,329.1 189.4,329.1 182.9,331.4 178.3,323.6 182.2,310 183.6,310 185.3,308.1 184.9,306.1 186,302.7 193.4,294.8 202.6,294.8 211.1,307.9 210.6,325.6Z" fill="#addd8e"/>
<path d="M181.1,325.1 184.1,327 187.5,328 189.4,329.1 189.4,329.1 188.5,332.7 186,335.6 183,337.4 182.1,339.3 180.8,341.9 178,340.3 177.5,337.9 173.8,337.9 173.7,323.6Z" fill="#f7fcb9"/>
<path d="M199.3,297.8 197,299.8 195.2,303.2 196.2,306.6 196.3,309.2 197.4,310.5 201.5,310.5 203.1,312.9 207.5,312.6 206.7,314.9 206.6,317.8 207.7,319.9 206.5,321.5 208.1,324.4 208.6,325.6 208.6,325.6 211.8,326.7 215.2,324.9 215.3,322.3 216.6,323 214.2,318.1 218.1,319.1 220,318.1 223,315.2 223,315.2 227.1,310.5 227.6,297.4 199.6,294.8Z" fill="#addd8e"/>
<path d="M225.4,307.1 223.2,309.2 224.1,310.5 222,311.3 221.5,313.4 223,315.2 223,315.2 224.7,315.5 224.8,317.3 225.5,318.6 224.7,322.5 226.8,325.4 229.1,324.9 232.6,323.8 232.6,323.8 230.8,320.2 229.2,318.3 230.9,315.2 231.4,313.4 231.5,310.5 227.3,305.3Z" fill="#addd8e"/>
<path d="M232.6,323.8 230.8,320.2 229.2,318.3 230.9,315.2 231.4,313.4 235.2,310.5 238.5,313.6 238.5,313.6 237.6,315.7 237.9,319.7 237,322.8 237,322.8 234,323.6 232.6,323.8Z" fill="#addd8e"/>
<path d="M237,322.8 237.9,319.7 237.6,315.7 238.5,313.6 240.9,310.5 246.5,317 243.7,317.8 240.9,323 237,322.8Z" fill="url(#hatch)" class="nd"/>
</g>
<path d="M184.9,306.1 186.2,307.9 187.7,305.3 189.5,301.4 191.2,299.8 194.3,299.3 197.4,296.9 198.8,296.3 199.4,298 198,298.7 198.6,300.3 201.9,298.7 202.4,296.9 203,298.7 206.1,300.6 206.8,301.4 211.4,301.1 213.6,302.4 216,301.4 220.6,300.8 219.8,302.7 222.7,304 224.9,306.6 225.4,307.1 228.3,309.7 230.5,312.3 231.4,313.4 235.1,313.4 238.5,313.6 241.9,315.7 243.7,317.8 245.3,319.7 247.6,324.4 247.5,327.5 245.9,328.8 249.9,329.3 252.2,330.6 256.8,331.4 260.3,334.8 263.7,335.1 267.2,336.4 270.7,336.1 274.2,338.5 277.7,341.3 281.6,342.4 282.8,347.4 282.5,351 280.3,355.5 278.1,358.9 274.8,362.8 273.8,368 274.2,374.5 272.9,379.8 271.7,382.4 270.3,386.3 268.2,388.7 265.6,388.9 262.7,389.7 258.8,391.5 255.2,394.9 254.2,398.1 254.5,402.8 252,405.9 249.9,409.8 248.4,413 246.2,416.9 245.2,419 243.5,420.3 240.6,420 236.9,418.7 235.4,417.7 235.9,419.5 238.7,421.6 239.6,423.7 240.6,425.2 239.3,428.4 236.6,429.9 232.6,430.7 229.9,430.2 231.2,434.6 229.7,436.2 225.2,435.4 226.3,439 229.4,439.8 227,441.6 227.9,446.2 224.6,447 224.3,449.3 228.3,451.9 229.2,453.9 227.3,457.7 225.6,460.3 226,463.3 228.3,465 225.5,465.8 224.7,468.5 221.5,467.8 218.4,465.3 213.8,461.5 210.7,456.5 208.7,451.4 208.1,450.3 209.9,446.2 209.5,442.4 209.1,438 206.8,435.9 206.2,432 204.3,426 204.9,421.6 205.9,415.1 204.5,407.2 204,402 204.8,395.5 204.4,390.2 204.3,383.7 203.1,376.6 200.7,375.1 196.5,371.9 191.2,369.1 188.3,365.1 186.1,360.4 183.3,354.9 181.2,350.2 178.9,346.6 176.1,344.5 175.5,341.1 177.5,337.9 178.4,336.6 178.8,334.6 176,334.6 176.2,331.4 178,328.5 178.3,326.4 181.1,325.1 181.8,322.3 184.1,322 184.2,318.3 184.8,314.4 184.5,311.3 183.6,310 185.3,308.1Z M228.1,465.5 229.7,467.3 233,469.5 236.9,470.5 234.9,471.7 231.5,472.7 228.4,472.2 224.6,470.3 225.5,468 225.3,466.3Z" fill="none"/>
<path d="M198.5,300.8 199.7,301.4 199.8,303.7 198.3,305 197.5,303.7 197.8,301.9Z" fill="#fff"/>
<g clip-path="url(#c_af)">
<path d="M350.2,235.2 351.5,235 354.3,236.8 356.5,236.5 358.2,237 360.8,235.5 363,234.7 366.2,233.4 369.5,232.6 373.8,232.6 378.1,232.1 381.6,232.4 384.1,231.3 385.2,231.6 386.7,232.1 385.7,233.7 386,235.2 386.9,236.8 385,239.1 386.9,240.7 388.2,242 390.4,243.1 392,242.8 396.4,244.1 397.2,246.5 400.6,247.8 405.1,249.6 407.2,247.8 407,244.6 410.2,242.8 413.5,243.6 418.1,246.2 422.6,247 427.1,248 429.2,246.7 431.4,246.2 434.3,247 438.5,247 440.5,251.7 439.7,255.6 439.3,256.4 437.6,254.8 435.6,251.2 435.1,250.6 435.5,253 437.7,256.1 439.1,259.5 441.7,264.8 443.2,267.4 446.4,271.3 447.5,275.2 447.4,277.8 450.6,281.7 452.7,287.5 455.6,290.1 458,293 460.4,295.3 461.8,295.6 462.4,298 461.2,298.7 462.4,299.3 464.1,301.6 467.5,301.1 470.9,299.5 475.5,299.3 479.6,297.7 480.7,298 480.4,301.4 479.2,305.3 477.7,308.4 475.9,313.1 473.7,317 470.3,321 467.6,323.6 463.4,327.5 460,331.2 459,333.2 456.5,335.6 454.6,339.3 453.4,341.1 452.4,344.5 453.5,346.6 453.9,351 454.5,354.9 455.8,356.2 456.1,361.5 456.3,366.7 455.5,370.6 451.9,373.2 447.2,375.3 445.5,377.9 442.2,380.6 443.1,385 443,390.2 442.4,392.8 437.1,395.5 436.1,396.8 436.6,398.9 435.4,403.3 431.7,407 429.2,410.6 425.6,414.3 424.2,415.1 419.2,417.7 414.3,417.9 411,418.2 406.6,419.8 403.4,418.5 403.1,415.1 403.1,411.7 401.3,407.2 399.7,403.6 397,399.4 395.7,388.9 395.7,388.1 393.4,382.4 391.4,377.2 389.9,374 389.9,370.6 391.1,366.7 393.7,361.5 394.7,357.6 393.4,352.3 392.5,347.1 391.3,344.7 391.1,343.7 390.2,340.8 388.4,338.7 385.4,335.3 383.8,331.4 383.1,330.4 384.5,328 385.2,326.2 385.6,322.8 385.4,319.1 383.5,317 382.6,316.5 379.1,317.3 376.8,317.6 374.5,314.4 373.1,312.3 370.8,312.1 369.2,312.3 366.7,312.6 365.8,312.9 363,314.2 358.4,316.5 355.9,315.5 351.5,315.5 345.7,317.3 342.2,315.2 338.1,312.3 336.5,310.8 334.2,309.5 332.6,306.6 332.4,305.3 330.8,303.2 329,300.6 328.6,300 326.3,298 324.7,296.6 324.5,294.6 324.5,293.2 323,290.4 325.3,287 326.6,281.7 325.5,278.1 326.3,276 324.4,274.4 324.5,272.9 326.9,267.4 329.3,264.8 330.5,260.8 334,256.4 337.4,254.3 340.8,251.7 341.5,249.1 341.4,246.5 343.2,243.1 346.6,241 348.1,239.9 350,236.8Z" fill="#00562f" stroke="none"/>
<path d="M388.2,241.5 388.3,243.8 385.7,245.7 384,249.9 384,249.9 385.1,256.1 384.3,260.1 385.5,264.8 390,267.4 390,267.4 395.1,269.7 396.8,268.7 401.6,276.5 417.5,277.8 417.5,277.8 417.4,276.5 419.7,276.5 419.5,271.3 419.5,271.3 418,245.2 417.6,239.9 388.1,239.9Z" fill="#004529"/>
<path d="M417.5,277.8 399.1,267.5 396.8,268.7 396.8,268.7 397.2,273.1 398,273.8 398.1,274.6 399,275.5 398.6,276.6 397.8,281.9 397.8,285.3 394.9,287.8 394,291.2 394.1,293 394.1,293 392.9,302.7 397.6,313.1 415.9,307.9 415.6,300 415.6,299 414.1,295.9 413.2,295.9 414.1,293.8 414.7,289.9 415.5,287.8 417.8,287.8 417.5,277.8Z" fill="#006837"/>
<path d="M352.1,263.4 365.6,273.6 365.7,274.7 370.3,277 370.5,279.1 372.7,278.7 372.7,278.7 372.7,284.8 371.5,286.5 371.3,288.1 369.3,288.5 366.2,288.8 365.3,289.7 363.8,289.8 363.8,289.8 358.4,305.3 333.1,302.7 331,287 345.1,260.8 352.1,263.4Z" fill="#006837"/>
<path d="M335.2,290.6 333.7,289.1 332.4,287 331.1,285.7 328.8,285.4 325.8,285.7 324.7,286.7 335.2,290.6 335.9,290.1 336.3,288.6 338.7,289.2 341.2,288.3 350.3,288.3 350.9,286.5 350.5,286.1 349.5,274.8 348.5,263.6 352.1,263.4 352.1,263.4 343.6,257.4 343.6,257.4 331.8,255.6 320,273.9 321.9,289.6Z" fill="#004529"/>
<path d="M331.8,256.5 343.7,256.5 343.6,260.8 336.1,260.8 336,267.5 333.7,268.7 333.4,273 323.4,273 322.5,266.1 329.6,255.1Z" fill="url(#hatch)" class="nd"/>
<path d="M446.3,291.2 445.8,295.6 443.5,298 442.9,300.8 441.4,304 441.4,304 441.5,306.6 439,307.9 439,308.7 441.3,310 443.7,314.4 445.8,316.8 445.8,316.8 460,326.2 478.1,307.9 463.8,294.8 446.3,291.2Z" fill="#006837"/>
<path d="M446.3,291.2 447.2,286.2 447.3,284.1 450.6,281.7 451.2,280.7 451.2,280.7 454.2,285.7 463.8,294.8 460.2,296.1 460.2,296.1 456.9,292.7 454.5,290.9 452.2,290.6 449.9,290.4 448.8,291.7 446.3,291.2Z" fill="#006837"/>
<path d="M461.3,300 459,300 458.9,298 460.2,296.1 461.8,295.6 463.4,296.1 463.5,299 462.4,299.3Z" fill="#00562f"/>
<path d="M459.7,318.6 457.6,321.5 457.7,328.8 459,333.2 460,334.6 460,334.6 482.9,315.7 482.2,294.8 462.4,299.3 461.3,300 461.1,301.1 461.8,302.7 464.2,305.3 471.2,307.9 473.5,307.9 466.8,315.7 464.5,316 461.7,317.6 459.7,318.6Z" fill="#004529"/>
<path d="M441.4,304 440.9,302.1 439,300.8 438.7,296.9 438,297.4 436.6,297.4 437.1,298.2 435,303.2 430.8,302.7 427.4,304.2 425.1,303.7 422.7,301.6 420.4,301.9 419.4,305.8 418,306.3 418,306.3 423,321 441.5,323.6 445.8,316.8 445.8,316.8 443.7,314.4 441.3,310 439,308.7 439,307.9 441.5,306.6 441.4,304Z" fill="url(#hatch)" class="nd"/>
<path d="M371.3,298.2 372.4,293.5 375.4,292.5 378.6,294.6 380.9,294 384.8,295.3 387.5,293.8 391.2,294.6 393,293.5 394.1,293 394.1,293 395.5,295.3 395.5,295.3 397.6,313.1 383.8,323.6 365.3,315.7 365.3,297.4Z" fill="#238443"/>
<path d="M350.6,301.7 350.4,300.2 351.1,299.1 351,298.2 352.8,296 353.2,294.2 353.8,293.6 354.9,293.9 355.9,293.4 356.2,292.7 358,291.6 358.4,290.7 360.6,289.7 361.8,289.3 362.4,289.8 363.8,289.8 363.8,289.8 363.7,291.2 365.3,293.8 368,295.9 368,297.7 368,297.7 369.9,305.3 356.1,307.9 350.6,301.7Z" fill="#238443"/>
<path d="M336.6,296.3 338.1,297 339.7,297.8 341.6,296.6 342.6,297.2 343.8,299 343.2,300.5 343.8,301.4 344.5,302.1 344.5,302.1 346.9,310.5 337.7,310.5 329.6,306.6 326.3,300 331.6,295.9 331.6,295.9 332.7,296 335,296.3 336.6,296.3Z" fill="#00562f"/>
<path d="M324.7,286.7 325.8,285.7 328.8,285.4 331.1,285.7 332.4,287 333.7,289.1 335.2,290.6 335.2,290.6 335.3,292.2 335.7,293.7 336.5,294.5 336.7,295.5 336.6,296.3 336.6,296.3 335,296.3 332.7,296 331.6,295.9 331.6,295.9 330.9,298.7 321.7,298.7 320.7,289.6Z" fill="#00562f"/>
<path d="M324,294.6 327.5,294.4 331.4,294 331.4,293.4 328,292.7 324.1,293.2Z" fill="#006837"/>
<path d="M331.6,295.9 328.6,295.9 324,296.6 323.9,301.4 328.1,300.6 329.3,298.7 331.6,298 331.6,295.9Z" fill="#238443"/>
<path d="M331.9,305.3 334.3,302.9 337.3,302.7 338.6,304.5 339.3,306.8 339.3,306.8 336,311 330.8,310.5 330.8,305.3Z" fill="#006837"/>
<path d="M336,311 339.3,306.8 339.3,306.8 341.1,306.8 341.6,309.5 343.7,308.9 343.7,308.9 346.9,313.1 346.8,319.7 335.3,314.4Z" fill="#41ab5d"/>
<path d="M345.7,317.8 345.7,314.4 343.9,312.1 343.7,308.9 343.7,308.9 344.8,306.6 344.5,302.1 344.5,302.1 345.5,302.3 347.3,302.3 348.7,301.3 349.6,302.1 350.6,301.7 350.6,301.7 352,303.2 355,302.9 356.6,303.7 356.6,303.7 358.4,310.5 358.4,319.7Z" fill="#238443"/>
<path d="M356.6,303.7 357,307.4 355.6,311.8 356.3,315.5 356.1,317 366.5,317 367.1,307.9 363,299.8 363,299.8 361.9,300 356.3,300.3 356.6,303.7Z" fill="#78c679"/>
<path d="M363,299.8 363.9,302.7 364.2,306.6 364.6,310.5 365.8,312.9 365.8,314.4 367.6,314.4 367.6,302.7 365.1,300 365.1,300 363,299.8Z" fill="#41ab5d"/>
<path d="M365.1,300 366.2,304 366.7,312.6 366.7,314.4 369.2,314.4 369.2,312.3 369.2,307.9 371.3,302.7 371.3,298.2 371.3,298.2 369.4,296.4 368,297.7 368,297.7 365.1,300Z" fill="#78c679"/>
<path d="M395.5,295.3 396.5,298.7 394.2,300.6 393.6,302.7 392.4,306.1 390.6,309.2 388.8,311.3 387.2,310.5 384.9,312.1 383.5,314.4 382.6,316.5 382.4,318.3 382.4,318.3 383.8,326.2 397.6,328.8 404.5,318.3 398.5,308.9 398.5,308.9 398,306.8 396.4,305.3 395,303.7 395.2,302.7 398.6,302.7 397.7,300.3 397.2,296.9 395.5,295.3Z" fill="#78c679"/>
<path d="M398.5,308.9 401.5,309.2 402.1,308.1 406.5,306.3 406.2,305.5 406.9,305.3 409,305.3 412.8,301.1 414,300 415.6,300 415.6,300 417,302.4 417.1,305.3 418,306.3 418,306.3 420.8,309.2 423.8,313.1 426.2,315.2 426.2,315.2 423,323.6 402.3,326.2 400.2,323 400.2,323 399.7,321 396.7,316 396.4,314.9 396.4,312.6 398.5,308.9Z" fill="#41ab5d"/>
<path d="M405.9,319.7 405.7,317.8 408,315.7 411.2,317.6 414.7,318.3 415.6,316.5 419.3,315.5 421.3,315.2 426.2,315.2 426.2,315.2 428.5,317.6 431.5,316.8 434.1,319.7 434.1,319.7 439.2,328.8 434.3,354.9 429.3,368 408.8,362.8 386,347.1 388.4,336.6 402.2,321Z" fill="#78c679"/>
<path d="M393.7,323 396.5,323 399.7,324.4 400.2,323 400.2,323 401.1,320.4 405.9,319.7 405.9,319.7 404.8,322.8 404.3,326.2 403.9,330.1 400.9,333.5 399.7,337.9 398.1,340 396.2,341.3 394.4,340.6 393,341.3 392.1,340.6 390.7,341.9 390,342.4 390,342.4 383.8,336.6 390.7,326.2Z" fill="#addd8e"/>
<path d="M389.1,323 393.7,323 393.7,323 393.2,325.4 396,325.7 396.3,330.1 395.1,334.8 392.1,333.8 389.8,335.1 390.2,337.7 388.6,339 387.7,339.8 387.7,339.8 381.5,331.4 383.8,322.5Z" fill="#addd8e"/>
<path d="M384.9,322.8 389.1,323 389.1,323 389.1,326.2 384.5,326.2Z" fill="#d9f0a3"/>
<path d="M434.1,319.7 434.6,323 432,327.2 431.3,330.4 431.3,332.5 431.3,332.5 434.6,335.3 443.8,334 445,323.6 441.4,317.8 441.4,317.8 436.8,319.4 434.1,319.7Z" fill="#78c679"/>
<path d="M441.5,331.4 441.3,328.5 442.7,325.9 443.8,324.1 442.4,319.1 441.4,317.8 441.4,317.8 445.8,316.8 445.8,316.8 446,317.3 450.7,319.4 454.1,319.9 457.6,318.6 459.7,318.6 459.7,318.6 457.6,321.5 457.7,328.8 459,333.2 460,334.6 460,334.6 455.2,344.5 446,341.9 441.5,331.4Z" fill="#41ab5d"/>
<path d="M454.8,341.6 453.4,341.1 450,337.9 441.5,331.4 441.5,331.4 433.4,331.4 433.4,331.4 429.5,336.6 430.8,340.3 430.8,340.3 431,344.5 433.7,350.2 433.7,350.2 436.5,357.6 445.5,362.8 457.1,360.2 457.5,341.9Z" fill="#41ab5d"/>
<path d="M430,332.5 431.3,332.5 433.4,331.4 434.1,334.8 432,336.1 429.9,335.9Z" fill="#41ab5d"/>
<path d="M429.9,335.9 432,336.1 434.1,334.8 433.4,337.4 430.8,340.3 430.4,337.9Z" fill="#41ab5d"/>
<path d="M390.7,344.7 393,344.2 401.3,344.2 402.2,347.9 406.7,349.7 407.7,347.1 410.2,347.1 413.2,347.9 413.4,353.6 414,357.8 418.1,357.2 418.1,357.2 422.5,365.4 417.5,378.5 385.8,375.9 388.4,344.5Z M390.7,341.9 392.1,340.3 393.2,341.1 391.8,343.7 391.1,344 389.5,343.2Z" fill="#addd8e"/>
<path d="M416.3,374.8 413.2,371.1 413.4,362.8 418,362.8 418.1,357.2 418.1,357.2 421.3,359.1 422.7,359.9 424.9,360.2 426.1,361 428.3,362.3 430.6,363.8 431.3,360.7 429.5,361.2 428.2,359.6 428.7,354.9 429,351 433.7,350.2 433.7,350.2 438.7,353.4 438.7,353.4 443.3,360.2 438.2,373.2 426.6,378.5 416.2,378.5Z" fill="#41ab5d"/>
<path d="M432.4,369.6 432,368 435,367 439,365.4 437.9,364.4 437.9,364.4 442.4,358.9 442.4,358.9 443.1,358.9 445.6,359.1 450.2,358.3 455.8,356.2 457.2,356.2 458.9,370.6 443.5,399.4 432.2,400.7 430.8,386.3 431.5,370.6Z" fill="#238443"/>
<path d="M438.7,353.4 441.2,353.6 442.4,358.9 442.6,361.5 443.1,366.7 444.8,369.3 443.5,373.5 441.3,371.1 441.9,368 439,365.4 437.9,364.4 438.7,360.2 439.5,357Z" fill="#41ab5d"/>
<path d="M420.6,375.3 424.4,375.9 429,370.6 432.4,369.6 432.4,369.6 434.5,370.6 438,372.5 438,377.2 437.2,381.1 436.3,384.5 433.7,387.4 433.7,387.4 428.3,390.2 419.7,381.1Z" fill="#006837"/>
<path d="M389.2,374 392.6,373.2 394.9,374.3 404,374.3 410.8,375.7 416.3,374.8 416.3,374.8 420.6,375.3 420.6,375.3 422,381.1 412.3,396.8 409.6,407.2 394,407.2 385.7,381.1Z" fill="#238443"/>
<path d="M420.6,375.3 418.8,375.9 416.3,375.9 410.8,376.6 410.5,386.3 408.2,386.3 408,393.5 407.7,400.7 418.9,399.4 429.2,391.5 429.4,386.8 429.4,386.8 426.3,385 425.8,382.4 422.5,379.8 420.6,375.3Z" fill="#41ab5d"/>
<path d="M398.6,403.8 399.7,403.6 401.9,403.8 405.3,404.3 407.5,403 408,393.5 398.6,403.8 399.9,422.9 428.3,420.3 438.8,402 437.3,398.9 437.3,398.9 434.8,398.9 434.5,396.5 434.5,396.5 435,392.8 433.7,387.4 433.7,387.4 429.4,386.8 429.4,386.8 426.9,387.9 423.8,390.5 422.6,393.1 420.7,395.7 418,396 413.9,395.5 411.5,398.9 409.3,398.9 408,393.5Z" fill="#41ab5d"/>
<path d="M434.5,396.5 434.8,398.9 432.3,399.9 432,397.5 433.2,396.2Z" fill="#41ab5d"/>
<path d="M422.9,406.2 425.3,403.8 428.1,405.1 427.9,407.2 425.4,408.8 423.7,408Z" fill="#238443"/>
<path d="M358.2,237 359.3,238.6 359.1,241.8 360.4,244.1 356.4,245.7 355,248 351.9,250.4 349.7,251.4 343.7,253.8 343.7,256.5" fill="none"/>
<path d="M384,249.9 382.8,245.2 379.4,240.4 380.9,238.1 381,234.7 381.6,232.4" fill="none"/>
<path d="M372.7,278.7 376.2,277.8 380,274.2 390,267.4" fill="none"/>
<path d="M419.5,271.3 447.7,271.3" fill="none"/>
<path d="M438.5,247 440.5,251.7" fill="none"/>
</g>
<path d="M350.2,235.2 351.5,235 354.3,236.8 356.5,236.5 358.2,237 360.8,235.5 363,234.7 366.2,233.4 369.5,232.6 373.8,232.6 378.1,232.1 381.6,232.4 384.1,231.3 385.2,231.6 386.7,232.1 385.7,233.7 386,235.2 386.9,236.8 385,239.1 386.9,240.7 388.2,242 390.4,243.1 392,242.8 396.4,244.1 397.2,246.5 400.6,247.8 405.1,249.6 407.2,247.8 407,244.6 410.2,242.8 413.5,243.6 418.1,246.2 422.6,247 427.1,248 429.2,246.7 431.4,246.2 434.3,247 438.5,247 440.5,251.7 439.7,255.6 439.3,256.4 437.6,254.8 435.6,251.2 435.1,250.6 435.5,253 437.7,256.1 439.1,259.5 441.7,264.8 443.2,267.4 446.4,271.3 447.5,275.2 447.4,277.8 450.6,281.7 452.7,287.5 455.6,290.1 458,293 460.4,295.3 461.8,295.6 462.4,298 461.2,298.7 462.4,299.3 464.1,301.6 467.5,301.1 470.9,299.5 475.5,299.3 479.6,297.7 480.7,298 480.4,301.4 479.2,305.3 477.7,308.4 475.9,313.1 473.7,317 470.3,321 467.6,323.6 463.4,327.5 460,331.2 459,333.2 456.5,335.6 454.6,339.3 453.4,341.1 452.4,344.5 453.5,346.6 453.9,351 454.5,354.9 455.8,356.2 456.1,361.5 456.3,366.7 455.5,370.6 451.9,373.2 447.2,375.3 445.5,377.9 442.2,380.6 443.1,385 443,390.2 442.4,392.8 437.1,395.5 436.1,396.8 436.6,398.9 435.4,403.3 431.7,407 429.2,410.6 425.6,414.3 424.2,415.1 419.2,417.7 414.3,417.9 411,418.2 406.6,419.8 403.4,418.5 403.1,415.1 403.1,411.7 401.3,407.2 399.7,403.6 397,399.4 395.7,388.9 395.7,388.1 393.4,382.4 391.4,377.2 389.9,374 389.9,370.6 391.1,366.7 393.7,361.5 394.7,357.6 393.4,352.3 392.5,347.1 391.3,344.7 391.1,343.7 390.2,340.8 388.4,338.7 385.4,335.3 383.8,331.4 383.1,330.4 384.5,328 385.2,326.2 385.6,322.8 385.4,319.1 383.5,317 382.6,316.5 379.1,317.3 376.8,317.6 374.5,314.4 373.1,312.3 370.8,312.1 369.2,312.3 366.7,312.6 365.8,312.9 363,314.2 358.4,316.5 355.9,315.5 351.5,315.5 345.7,317.3 342.2,315.2 338.1,312.3 336.5,310.8 334.2,309.5 332.6,306.6 332.4,305.3 330.8,303.2 329,300.6 328.6,300 326.3,298 324.7,296.6 324.5,294.6 324.5,293.2 323,290.4 325.3,287 326.6,281.7 325.5,278.1 326.3,276 324.4,274.4 324.5,272.9 326.9,267.4 329.3,264.8 330.5,260.8 334,256.4 337.4,254.3 340.8,251.7 341.5,249.1 341.4,246.5 343.2,243.1 346.6,241 348.1,239.9 350,236.8Z" fill="none"/>
<g clip-path="url(#c_ea)">
<path d="M343.6,232.1 342.7,227.7 344.1,223.8 344.6,221.2 343.5,216.5 345.7,215.2 348.4,214.7 352.6,215.2 355.1,215.2 359.2,215.5 360.3,212.6 360.7,209.6 360.5,208.3 358.5,205.7 356.9,204.7 353.9,203.9 353.5,202.7 355.9,201.6 359,202.2 360,201.9 359.4,199.4 360.8,200.1 363.2,199.9 366,198.4 366.2,196.3 368,195.8 369.7,195.1 371.1,193.6 372.2,191.1 373.7,190.1 376.7,190.1 379,189.6 379.7,188.8 380.3,187.8 379.6,186.1 378.5,184.6 378.4,181.9 379.3,181 383,179.5 382.6,182.2 383.8,182.7 382.2,184.9 381.7,186.1 382.4,187.3 384.4,188.6 386.7,188.1 389.1,187.3 390.6,188.8 394.9,187.3 398.8,186.8 401,187.6 401.6,186.4 403.4,185.4 403.1,183.2 402.8,181.2 403.9,179.7 406.6,181.2 409,180.7 408.8,178.3 406.9,177.1 406.5,175.9 409.3,175.1 414.9,175.1 418.9,174.2 415.6,172.5 414,172.7 409,173.5 405.5,174.4 402.1,172.5 401.7,170.4 401.5,166.8 403.4,165.2 406.1,162.7 407.5,162 406.6,160.8 404.9,160.4 401.7,160.8 400.9,163.4 399.5,165.2 396.2,167.3 394.2,168.5 394.4,171.6 394.7,172.5 397.5,173.7 398,174.9 396.6,175.6 394.2,177.6 394.1,180 393.5,182.9 390.7,183.4 390.3,185.1 388,185.1 387.2,183.2 385.4,179.5 383.8,176.3 382.6,174.4 381.6,176.3 378,178.5 375.4,178.5 373.2,176.3 372.2,173.2 372.1,170.4 372.9,168.7 375.6,167.3 378.1,165.7 381.5,165.7 382.3,162.7 384.7,159.9 387,157 389.3,155 390.8,153.6 393.8,151.6 397.8,150.8 400.9,149.7 405.2,148.6 408.9,148.8 414.2,150.1 411.2,151.4 414.2,151.4 418.1,152.3 423.3,152.7 428.1,154.7 433,156.5 434.3,158.8 432.4,159.7 428.9,159.7 423.4,158.8 419.8,158.3 423.2,161.1 424.4,163.4 428.7,164.7 430,163.4 434.3,163.1 432.8,161.1 435.6,159 439.2,159.5 438.5,156.5 436,154.1 440.8,154.7 442.8,157.6 444.9,156.3 452.8,155 454.4,154.7 455.9,154.3 459.9,153.8 464.3,154.3 464.8,152.1 470.1,152.5 473.8,153.2 476,154.1 479,155 479.1,153.6 474.6,151.6 472.8,148.8 473.2,145.6 474.5,144.1 479.1,145 481.8,148.8 485.5,153.2 486.6,157.6 489.9,158.8 488.6,155.4 488.9,153.2 485.1,148.8 483.6,145.6 488.9,146.3 492.5,146.7 496.6,147.7 499.9,149.9 499.5,147.3 500.5,142.9 501.9,139.4 508.1,138 515,137.4 518.6,135.1 524.6,136.6 531.2,137 536.6,138.8 541.9,142.5 533.5,144.1 536.9,142.9 542.1,143.3 550.3,143.5 558.2,143.5 564.5,143.5 571.3,146.3 576.1,148.8 579.6,147.7 586.4,148 588.1,145.6 590.8,145.2 598.1,145.8 606.7,147.3 614.1,149 620,148.6 629.4,151.6 633.1,151.9 640.1,152.1 642.1,151.2 649.2,153.2 646.7,151 655.7,151.4 665.5,153.4 678.8,162.2 678,162.9 675.4,162.9 677.9,164 684.5,166.8 685.8,168.5 682,169.7 679,171.6 677.4,173.9 670.1,173.2 665.7,174.2 668.8,177.6 667.9,179.3 674.1,183.2 675.9,186.6 676.1,190.6 673.9,191.3 674.9,195.6 675,196.3 669.9,192.3 662.8,186.1 658.7,181.2 658.9,178.8 659.4,175.1 660.2,170.4 658.2,168 655.2,171.6 647.5,170.4 650.7,175.6 645.9,176.3 642.8,175.1 634,175.6 627.8,175.9 626.5,179.3 625.9,183.6 624.3,186.6 630.3,188.6 633.8,188.1 639.9,191.1 641.5,194.8 644.2,198.6 647.4,202.4 647,207.5 645.5,211.4 643.3,216 639.7,216 637.8,218.3 637.1,220.4 637.9,222.2 635.4,224.3 635,225.6 637.9,227.9 641.8,231.6 643.7,234.7 644,236.8 640.9,238.1 638.5,238.6 636.4,233.4 635.8,230.8 634,230 631.6,229.5 630.6,226.1 627.6,224.5 623.8,226.6 622.4,227.4 621.6,223.5 619.3,221.9 617.6,224.8 614.7,226.9 617.6,229.5 619.5,231.3 622.6,230 626.9,231.1 624.6,233.1 622.6,236 622.7,237.8 626.4,241.2 629,243.8 631.7,245.9 632.2,248 629.9,249.6 633.6,250.9 633.7,254.8 632.3,257.7 631.1,260.8 630.2,262.9 628.4,265 626.1,267.9 622.5,269.5 620.9,270.5 618.4,271.3 615.2,272.6 613.1,273.4 613,275.7 611.4,272.6 608.3,272.1 607.3,272.6 605.3,274.4 604.5,276 603.4,279.1 605.5,282.3 608.2,285.7 610.2,287 612.3,290.9 613.5,294.8 613.6,298 611.1,300.6 608.8,301.6 608.3,304 605.3,306.1 604.1,306.3 604.4,303.2 603.1,301.6 600.8,301.1 599.5,299.3 599.1,298.2 596.9,296.1 594.5,295.6 594.1,293.5 592.1,294 592.2,297.4 591.1,300.6 591.1,304.5 593.1,306.6 594.4,309.7 596.8,311 598.3,312.6 600.4,314.4 601.5,317 601.9,321 603.6,325.1 602,325.4 599.6,323.3 596.8,321.2 595.1,317.8 594.2,314.4 593.6,312.1 592.1,309.7 589.3,308.1 589.3,304 589.5,301.6 589.2,297.4 587.8,292.2 586.2,288.3 585.6,285.7 583.1,285.7 580.6,287.5 578.3,287 578.2,283.1 576.6,279.1 575.1,276.5 572,274.4 570.3,270.5 567.3,270 565.3,271.8 564.2,272.1 562,272.3 560.1,274.7 559.2,276.5 556.4,277.8 554.1,281 550.7,285.4 548,287.5 546.3,288.8 546.4,293.5 547,294.8 546.2,298.7 546.4,301.9 544.7,304.5 542.9,305.5 541.4,307.6 539,305.3 538.1,302.7 535.8,298 534.4,294.8 533,290.9 530.8,287 528.4,279.1 527.7,275.2 527.2,272.6 526.5,273.9 523.4,274.7 518.9,270.8 521,269.2 518.1,267.9 516.6,266.8 514.4,264.8 512.9,263.7 512.3,262.4 507.8,262.9 502.3,263.2 501.3,262.9 497.7,262.7 493.1,261.9 490.5,258.7 488.8,257.7 485.7,259.5 481.5,258.2 477.9,255.9 475.9,253 473.8,249.9 471.5,249.3 470.7,250.4 469.4,250.4 470,251.7 470.7,254 471.9,256.4 474.2,258.7 475.4,260.1 475.7,262.1 477.2,264 477.3,260.6 478,260.6 478.9,263.4 478.6,264.8 481.1,265.5 484.5,265.5 485.6,264.8 487.2,262.7 488.5,260.8 489.3,259.8 489.7,263.4 490.3,264.8 492.5,266.6 495,267.1 498,270 496.6,273.9 494.5,275.5 494.1,279.1 491.6,281.7 488.4,284.4 486.1,284.4 482.8,285.9 479.6,289.1 475.1,291.7 470.6,293.5 466.1,295.3 462.7,295.6 462,294 460.8,289.6 460.4,285.9 458.1,281.7 454.9,277 451.7,272.6 449.8,267.4 446.6,263.4 443.5,258.7 441,255.3 440.5,251.7 438.5,247 439.1,246.2 439.8,243.1 440.6,240.2 441.3,238.4 440.8,236 441,234.7 441.3,233.1 439.8,233.1 437.7,232.6 435.6,234.4 433.4,234.4 430,232.6 429.1,232.6 428.8,233.9 426.9,234.2 424.6,232.6 422.4,232.9 421.8,230.8 419.9,228.7 420.3,226.9 418.9,225.6 418.8,224.3 421.4,223.2 424.6,223 424.6,221.7 425.4,221.2 429.6,221.2 433.1,219.1 436.7,219.1 440.2,220.9 444.6,221.9 447.7,221.7 450.6,220.4 450.8,218.8 448.9,216.5 446.6,215.5 444.2,213.9 440.7,212.1 439.4,210.6 441.2,208.8 441.6,206 442.6,205.7 439.7,206.2 436.8,207.3 434.9,208.3 436.3,210.6 438.4,210.6 436.3,211.4 433.6,212.9 432.3,212.4 430.1,210.3 432.1,208.5 428.7,208 427.6,207.3 425.9,207.5 424.1,210.3 422.5,213.9 422.8,215.5 421.4,216 420.7,217.8 422,219.1 422.5,220.4 424.3,221.2 422.3,221.7 420.3,222.5 418.7,223.5 418.1,222.2 414.9,221.9 414,223.5 413.7,224.4 411.6,223 411.1,224.8 412.1,226.4 413.2,228.7 414.6,229.5 414.6,230.3 412.5,230 412.6,231.3 413,233.4 411.5,233.4 409.9,232.6 408.8,230.3 408.7,228.7 407.5,227.1 406.1,225.3 404.4,223.2 404,220.9 403.9,219.4 401.8,217.8 399.6,216.5 397.5,215.2 394.8,213.7 393.8,211.4 392.5,210.6 391.1,211.4 391.2,209.8 388.4,210.3 388.7,212.6 391.2,215 392.8,217.8 395.7,219.4 396.7,219.4 396.8,220.7 400.1,221.9 402.3,223.8 402.2,224.8 399.1,223 398.4,225.1 399.6,226.9 398.4,228.4 396.7,229.7 396.8,227.7 397.3,225.6 396,224 393.8,222.7 393.1,222.2 390.5,221.2 388.7,219.6 386.1,217.8 384.5,215.2 383.4,213.7 381.5,212.9 378.6,214.5 376.6,216.3 374.3,215.7 371.4,215.2 369.3,216.5 369.7,218.1 369.7,219.4 367.6,220.7 364.9,221.7 363.4,224.3 362.4,225.6 363.4,227.7 361.9,228.7 361.5,230.5 358.2,232.9 353.5,232.9 351.3,234.4 349.4,233.4 347,231.6 345.7,232.1Z M60.5,153.4 61.5,153.8 63.5,155.9 66,157.6 67.8,158.8 68.8,159.7 64.6,161.1 58.8,163.4 56.9,163.8 55.4,162.7 55.9,161.1 51.5,161.1 48.8,161.7 47.2,162.2Z" fill="#addd8e" stroke="none"/>
<path d="M415.3,151 414.2,151.4 411.7,153.2 411.3,155 413.9,156.1 412.8,157.9 415.2,160.6 415.2,162.7 417,164 419.5,167.1 417.4,169.7 414,172.7 414.3,173.9 414.6,173.9 414.9,175.1 414.3,176.8 415.1,179.3 414.7,180 416.8,183.3 420.5,184.1 422.8,186.1 422.7,187.8 425.3,189.1 426.5,190.3 424.6,190.6 425.8,193.3 429.5,192.6 433.6,196.1 436,197.8 439.2,198.9 443.4,199.6 444.1,203.2 443.9,204.2 441,206 441.3,207.5 439.3,209.8 438.9,211.4 440,213.9 426,217.5 422,219.1 418.5,219.9 419.2,220.9 418.1,222.2 419.4,234.7 384.8,237.3 336.9,237.3 339,198.6 363,173.9 379,144.6 414.1,144.6Z" fill="#f7fcb9"/>
<path d="M414.6,173.9 414.9,175.1 414.3,176.8 415.1,179.3 414.7,180 416.8,183.3 414,184.4 412.8,186.4 412.5,187.8 409.7,188.8 408.7,188.7 407.2,187.6 407,186.1 404,185.5 401.2,183.6 400.6,178.8 403.6,173.9Z" fill="#ffffe5"/>
<path d="M401,187.5 407.2,187.6 407,186.1 404,185.5 402.3,184.6 399.6,186.1Z" fill="#addd8e"/>
<path d="M378.5,204.7 382.6,205 375.5,208 377.4,209.1 380.5,208.8 382.1,207.8 384.3,207.3 382.6,206 382.6,205Z" fill="#ffffe5"/>
<path d="M401.9,209.1 404.7,208.5 407.5,211.9 410.2,213.4 409.9,216.5 411.1,218.3 408.2,218.6 406.4,219.4 403.9,219.4 402.6,219.6 401.5,218.1 401.8,217.5 403.1,215.2 403.3,213.4 402.3,211.6Z" fill="url(#hatch)" class="nd"/>
<path d="M395.7,210.8 398.1,210.8 402.3,211.6 403.3,213.4 403.1,215.2 401.8,217.5 399.9,216.5 396.7,213.7 395.7,211.9Z" fill="#78c679"/>
<path d="M403.9,219.4 406.4,219.4 407.1,221.9 407.5,222.1 406.1,225.3 404.6,225.3 403.3,223 403,219.4Z" fill="#addd8e"/>
<path d="M406.4,219.4 408.2,218.6 411.1,218.3 411.6,220.9 409.3,221.4 407.5,222.1 407.1,221.9Z" fill="#78c679"/>
<path d="M406.1,225.3 407.5,222.1 409.3,221.4 411.6,220.9 414.7,220.4 418.5,219.9 419.2,220.9 418.1,222.2 418.3,224.3 415.5,228.2 416.1,234.7 408.5,234.7 404.6,225.3Z" fill="#d9f0a3"/>
<path d="M464.9,209.3 463.7,207.8 462.6,207.3 462.5,206 460.9,204.5 459.3,204.5 457.2,202.7 457.7,200.6 457.2,200.1 457.9,197.3 460.5,198.9 460.2,197.1 463.6,194.3 466.5,194.3 471.4,196.1 474.1,197.1 479.1,195.8 482,197.3 482.4,196.6 485.1,196.6 485.3,195.3 481.5,193.6 482.9,192.6 482,191.1 483.9,191.1 481.9,189.3 482.4,188.6 489.3,187.6 490.1,187.1 494.5,186.1 495.8,185.1 499.5,185.6 501.3,188.3 502.9,187.6 505.9,188.6 506.3,189.8 508.2,189.8 511.9,187.3 511.5,188.1 515,190.1 522.3,196.3 522.9,195.1 526.2,196.6 528.8,195.8 530.1,196.3 531.8,197.8 533.4,198.4 534.7,199.4 537.2,199.1 539.1,200.6 536.6,202.7 537.8,206.2 532.4,205.7 533.2,210.1 528.6,211.4 529.8,212.4 532,216 531.2,216.5 531.7,218.6 528.8,217 525.3,216.5 521.2,216.8 518.4,216 516.9,216.5 512.3,217.3 512.1,218.3 508.8,220.7 507,221.7 503.1,219.4 501.7,218.1 498.4,214.7 492.5,215.2 489.7,212.9 483.6,209.8 478.9,211.4 481.4,220.9 480.3,220.9 477.8,219.1 474.5,218.8 473.7,219.6 471.6,219.6 467.1,213.9 464.4,211.4Z" fill="#41ab5d"/>
<path d="M539.9,200.6 541.6,199.9 543.4,198.6 546.7,196.6 550.9,197.3 553,198.6 555,198.6 558.4,199.4 559.2,197.6 557.6,196.1 558.3,193.6 561,194.6 563,194.8 565.7,195.3 567.3,197.3 570.7,198.4 572.2,197.8 574.6,197.6 576.8,197.8 579.5,199.1 581.5,200.4 583.3,200.4 586.2,200.9 587.6,200.1 590,199.9 591.9,198.1 593.3,198.4 594.8,199.1 597,198.9 597.3,200.9 597.4,203.4 598.4,204.5 599.4,203.9 601.7,204.5 602.7,203.4 605,204.5 607.9,206.2 608.1,207 606.3,206.7 603.4,207 602.4,207.8 602,209.6 599.5,210.6 598.2,211.9 595.6,211.4 594.4,211.1 594,212.6 595.4,213.7 596.2,214.7 595.1,215.5 594.3,216.8 592.3,217.8 589.2,217.8 586.3,218.8 584.6,220.1 583.2,219.4 580.6,219.4 576.8,217.8 574.4,217.3 571.9,217.8 567.5,217.3 565,217.3 563.3,215.7 561.2,213.4 559.7,212.9 556.5,211.4 553.5,211.1 551,210.6 549.7,209.6 549.1,206.5 546.8,204.5 543.4,203.4 541,202.2 539.9,200.6Z" fill="#d9f0a3"/>
<path d="M450.6,220.4 452.8,220.7 455,221.4 455.9,224 458.5,225.1 458.2,228.4 459.6,231.6 454.5,231.8 449.4,232.6 445.1,232.6 442.3,232.6 441.5,234.7 440.9,235 440,235 436.9,236 418.4,236 417.1,223 420.4,223.5 423.5,222.9 424.5,221.6 428.1,217.8 449.2,218.6Z M418.1,222.2 419.2,220.9 418.5,219.9 422,219.1 425.1,219.1 424.6,221.3 422.3,221.9 420.3,222.7 418.3,223.8Z" fill="#00562f"/>
<path d="M446.6,215.5 445.9,217.8 449.7,221.2 450.6,220.4 452.8,220.7 455,221.4 458.1,220.9 461.6,221.2 460.8,219.4 456.3,217.3 451.9,216Z" fill="#d9f0a3"/>
<path d="M455,221.4 458.1,220.9 459.6,222.2 462.2,225.6 462.5,227.1 460.1,225.6 458.5,225.1 455.9,224Z" fill="#00562f"/>
<path d="M458.1,220.9 461.6,221.2 460.8,219.4 464.1,221.2 465.5,219.6 469.6,220.4 471.5,229.5 467.9,228.4 465.7,227.4 465.3,225.1 462.5,227.1 462.2,225.6 459.6,222.2Z M458.5,225.1 460.1,225.6 461.6,227.1 460.1,226.9Z" fill="#00562f"/>
<path d="M470.7,250.4 468.6,247.8 467.5,244.4 463.9,242.5 462.4,239.9 463.5,236.8 461.4,234.7 459.6,231.6 458.2,228.4 458.5,225.1 460.1,225.6 461.6,227.1 462.5,227.1 465.3,225.1 465.7,227.4 467.9,228.4 470.9,232.1 479.6,233.4 479.2,231.3 481.2,229.5 485.4,229 488.9,230.5 492.6,232.4 495.3,233.1 495.9,235.7 495.3,239.1 495.7,242.5 497.3,246.5 499.5,247.8 498.1,250.9 500.6,254 503.3,257.4 504.4,259.3 501.5,260.3 501.3,262.9 501.5,264.8 486.8,266.1 479.6,260.8 470.9,251.7Z" fill="#004529"/>
<path d="M459.6,231.6 454.5,231.8 452.8,237.8 452.5,238.9 448,241.5 449.3,244.6 452.2,245.4 455.8,247.5 462.3,252.5 466.4,252.7 468.3,250.4 469.4,250.4 470.7,250.4 468.6,247.8 467.5,244.4 463.9,242.5 462.4,239.9 463.5,236.8 461.4,234.7 459.6,231.6Z" fill="#00562f"/>
<path d="M440,235 440.9,235 441.5,234.7 442.3,232.6 445.1,232.6 449.4,232.6 454.5,231.8 454.5,231.8 452.8,237.8 452.5,238.9 448,241.5 443.9,244.4 441.4,243.3 441.2,241.8 441.2,241.8 442.4,240.4 442.6,238.6 441.5,238.2 439.2,237.3Z" fill="#00562f"/>
<path d="M449.3,244.6 452.2,245.4 455.8,247.5 462.3,252.5 466.4,252.7 469.2,254.2 472.1,254.2 475.8,256.9 477.2,264 478.1,264.5 478.6,264.8 478.6,264.8 479.1,265.8 481.7,268.9 487.6,269.5 487.6,269.5 488.6,271.3 487.7,276.5 481.1,279.1 481.1,279.1 474.4,280.2 470.1,284.4 464.4,283.3 461.4,283.3 460.6,285.9 459.5,285.9 443.9,263.4 438.7,254.3 440.7,251.7 443,252.5 446.1,250.4 447.1,249.1 444.6,246.5 448.9,245.2 449.3,244.6Z" fill="#004529"/>
<path d="M448,241.5 443.9,244.4 441.4,243.3 441.4,243.3 441.2,241.8 443,252.5 446.1,250.4 447.1,249.1 444.6,246.5 448.9,245.2 449.3,244.6 448,241.5Z" fill="#00562f"/>
<path d="M438.5,247 440.5,251.7 440.7,251.7 441.3,246.5 441.4,243.3 441.2,241.8 440,242.3 437.6,242.5 436.9,247Z" fill="#d9f0a3"/>
<path d="M440,242.3 441.2,241.8 442.4,240.4 442.6,238.6 441.5,238.2 439.2,237.8Z" fill="#006837"/>
<path d="M466.4,252.7 468.3,250.4 469.4,250.4 471.7,251.2 472.1,254.2 469.2,254.2Z" fill="#004529"/>
<path d="M459.5,285.9 460.6,285.9 461.4,283.3 464.4,283.3 470.1,284.4 474.4,280.2 481.1,279.1 484.1,285.3 484.7,287 473.2,298.7 459.4,297.4Z" fill="#004529"/>
<path d="M484.7,287 484.1,285.3 481.1,279.1 487.7,276.5 488.6,271.3 487.6,269.5 488.6,266.1 488.8,263.7 490.2,263.7 500.6,268.7 488.7,289.6Z M488.5,260.8 489.1,261.9 489.7,261.6 489.9,259.3 488.3,259.3Z" fill="#006837"/>
<path d="M487.6,269.5 481.7,268.9 479.1,265.8 478.6,264.8 478.6,264.8 479.7,262.1 488.2,258.2 489.5,261.9 490.2,263.7 488.8,263.7 488.6,266.1 487.6,269.5Z" fill="#00562f"/>
<path d="M477.2,264 478.1,264.5 479.4,263.4 478.6,260.1 477,260.1 476.6,262.1Z" fill="#78c679"/>
<path d="M440.2,246.7 441.3,246.5 441.3,244.1 440.4,243.7 440,245.4Z" fill="#004529"/>
<path d="M471.6,219.6 473.7,219.6 474.5,218.8 477.8,219.1 480.3,220.9 481.4,220.9 483.5,220.9 485.7,217.3 489.2,218.6 492,221.2 496,224.3 499.9,226.9 503.5,228.7 506.3,231.1 502.6,233.9 498.9,236.5 495.9,235.7 495.3,233.1 492.6,232.4 488.9,230.5 485.4,229 481.2,229.5 479.2,231.3 475,230.8 473.1,221.7Z" fill="#006837"/>
<path d="M481.4,220.9 478.9,211.4 483.6,209.8 489.7,212.9 492.5,215.2 498.4,214.7 501.7,218.1 503.1,219.4 507,221.7 508.8,220.7 512.1,218.3 514,220.4 517.7,222.2 515.2,224.3 512.9,223.8 509.9,222.5 508.8,224.3 507,225.6 509,227.4 509.2,231.6 506.3,231.1 503.5,228.7 499.9,226.9 496,224.3 492,221.2 489.2,218.6 485.7,217.3 483.5,220.9 481.4,220.9Z" fill="#006837"/>
<path d="M498.1,250.9 499.5,247.8 497.3,246.5 495.7,242.5 495.3,239.1 495.9,235.7 498.9,236.5 502.6,233.9 506.3,231.1 509.2,231.6 512.6,230.5 514.3,228.7 516.1,229 517.3,232.1 519.5,232.1 524.5,231.6 523.8,232.1 519.5,232.4 517.3,234.4 518.5,236 518.2,239.1 516,239.9 517,241.5 515.5,242.5 515.6,245.4 512.9,245.9 509.8,248 510,250.6 505.1,251.9 501.8,251.9 498.1,250.9Z" fill="#004529"/>
<path d="M512.1,218.3 512.3,217.3 516.9,216.5 518.4,216 521.2,216.8 525.3,216.5 528.8,217 531.7,218.6 528.8,220.4 525.8,221.7 524.4,223.2 521.9,223.2 520.1,224.5 520.3,225.8 516.7,225.8 513.3,225.3 511.3,225.6 512.9,223.8 515.2,224.3 517.7,222.2 514,220.4 512.1,218.3Z" fill="#00562f"/>
<path d="M509.2,231.6 509,227.4 507,225.6 508.8,224.3 509.9,222.5 512.9,223.8 511.3,225.6 513.3,225.3 516.7,225.8 520.3,225.8 521.4,228.2 524.6,231.1 524.5,231.6 519.5,232.1 517.3,232.1 516.1,229 514.3,228.7 512.6,230.5 509.2,231.6Z" fill="#00562f"/>
<path d="M501.3,262.9 501.5,260.3 504.4,259.3 503.3,257.4 500.6,254 498.1,250.9 501.8,251.9 505.1,251.9 510,250.6 509.8,248 512.9,245.9 515.6,245.4 515.5,242.5 517,241.5 516,239.9 518.2,239.1 518.5,236 517.3,234.4 519.5,232.4 523.8,232.1 524.5,231.6 525.2,231.8 527,232.9 528.3,235 532,236 532,236 530.6,238.2 528.3,238.6 524.7,238 524,239.1 525.3,241.5 526.6,243.1 528.6,244.4 527,245.9 527.4,247.8 525.8,250.4 524.9,253.1 523.1,255.9 520.4,255.6 518.4,258.5 520.2,259.5 520.7,261.6 522,262.9 522.7,265 517.8,265.3 516.6,266.8 516.2,267.4 511.9,268.7Z" fill="#004529"/>
<path d="M516.2,267.4 516.6,266.8 517.8,265.3 522.7,265 522,262.9 520.7,261.6 520.2,259.5 518.4,258.5 520.4,255.6 523.1,255.9 524.9,253.1 525.8,250.4 527.4,247.8 527,245.9 528.6,244.4 526.6,243.1 525.3,241.5 524,239.1 524.7,238 528.3,238.6 530.6,238.2 532,236 534.2,238.4 535.9,241.8 535.5,243.6 536.6,246.5 539.1,247.8 542.7,249.9 550.3,255.6 559.5,255.9 561,255.6 561.4,257.4 564,256.9 567.6,256.1 569.3,255.9 570.9,254 573.1,252.2 575.1,253 576.2,251.9 579.8,254.8 580.2,255.9 578.4,257.4 576.4,260.8 575.4,262.9 575.7,264.2 574.9,266.3 573,265.8 573.4,268.7 573.1,269.5 573.5,270.5 572.5,271.3 571.1,272.6 564.5,273.9 556.4,281.7 548.6,294.8 547.2,307.9 541.6,311.8 535.5,305.3 525.4,279.1 515.8,273.9Z" fill="#238443"/>
<path d="M542.7,249.9 543.4,249.3 545.4,250.1 547.9,251.7 550.3,253.5 554.2,255.1 556.8,255.7 559.5,255.9 560.3,258.7 560.3,259.8 558.3,259.8 555.5,259.3 553.9,259 552.3,257.7 549,257.2 545.9,255.9 543.6,254.6 541.2,253.5 542.7,249.9Z" fill="#238443"/>
<path d="M561.4,257.4 562.6,255.6 563.5,254.8 566.4,255.6 567.6,256.1 568.6,256.9 569,258.7 567,258.7 563.7,259Z" fill="#238443"/>
<path d="M564.3,272.6 563.6,268.9 562.4,267.1 562.6,265.5 561.1,264.8 561.4,263.7 562.6,262.9 560.8,261.4 561.4,259.8 563.4,260.8 564.3,260.9 564.8,262.7 567.2,263.2 569.7,263.2 570.6,263.5 569.6,265.8 568.5,267.4 569.8,268.7 570.1,267.1 570.6,267.1 572.5,271.3 572.6,273.1 571.8,272.6 572.3,274.7 571.7,276.5 566.9,275.2Z" fill="#004529"/>
<path d="M572.5,271.3 573.5,270.5 573.1,269.5 573.4,268.7 573,265.8 574.9,266.3 575.7,264.2 575.4,262.9 576.4,260.8 578.4,257.4 580.2,255.9 579.8,254.8 581.1,254.8 582.1,256.4 583.4,256.9 584.3,261.1 582.5,263.2 582.8,266.3 585.2,265.8 586,268.4 587.5,268.9 587.1,271 589.1,272.1 591.9,272.9 590.2,274.4 589.9,275.5 588.6,276 587.5,277.2 585.9,277.3 585.4,280.2 584.5,280.7 585.9,282.9 587.6,284.9 588.7,286.5 588.1,288.8 587.5,289.3 588.1,290.6 589.9,292.7 590.2,294 590.4,295.3 591.5,297.7 590.3,300.2 589.5,302.8 588.7,302.9 583.8,305.3 575.6,289.6 571.7,276.5 572.3,274.7 571.8,272.6 572.6,273.1Z" fill="#78c679"/>
<path d="M591.9,272.9 593.2,273.4 592.7,270.5 593.8,270.2 595.3,272.1 596.7,274.4 599.5,274.5 600.7,276.8 599.5,277.6 598.9,278.3 601.9,279.9 604.2,283.1 606.1,285.4 608,287.2 608.9,289.1 608.8,291.7 606.6,290.6 605.7,292.5 603.7,291.4 604.3,290.4 604.2,288 602.1,285.9 601.5,283.3 599.5,281.2 597.8,281 597.4,281.9 596.1,282 595.3,281.5 593.2,283.1 592.7,280.7 593,277.8 591.4,277.8 589.9,275.5 590.2,274.4 591.9,272.9Z" fill="#d9f0a3"/>
<path d="M588.7,302.9 589.5,302.8 590.3,300.2 591.5,297.7 590.4,295.3 590.2,294 589.9,292.7 588.1,290.6 587.5,289.3 588.1,288.8 588.7,286.5 587.6,284.9 585.9,282.9 584.5,280.7 585.4,280.2 585.9,277.3 587.5,277.2 588.6,276 589.9,275.5 591.4,277.8 593,277.8 592.7,280.7 593.2,283.1 595.3,281.5 596.1,282 597.4,281.9 597.8,281 599.5,281.2 601.5,283.3 602.1,285.9 604.2,288 604.3,290.4 603.7,291.4 601.6,291.2 598.7,291.7 597.4,293.8 598.3,296.9 599.1,298.2 599.3,299.5 594.9,300 599.2,312.3 598.3,312.6 597.6,313.6 596.2,313.9 596,312.6 594.1,311.5 593.6,312.1 593,312.1 588.7,310.5Z" fill="#addd8e"/>
<path d="M599.1,298.2 598.3,296.9 597.4,293.8 598.7,291.7 601.6,291.2 603.7,291.4 605.7,292.5 606.6,290.6 608.8,291.7 609.4,293.5 609.5,296.6 605.8,298.5 606.9,300.2 604.6,300.3 602.6,301.4 602.7,302.7 599.7,302.7Z" fill="#addd8e"/>
<path d="M593,312.1 593.6,312.1 594.1,311.5 596,312.6 596.2,313.9 597.6,313.6 598.3,312.6 599.2,312.3 604,315.7 605,326.2 602,326.2 594.9,321 592.3,313.1Z" fill="#006837"/>
<path d="M633,230.3 635.5,230 635.7,228.7 637.9,227.9 639.3,227.7 647,234.7 643.3,241.2 636.2,239.9 632.8,232.1Z" fill="#f7fcb9"/>
<path d="M411.7,153.2 409.5,151 406.2,151.4 406,152.7 402.9,153.6 398.3,153.2 397.6,153.1" fill="none"/>
<path d="M397.6,153.1 402.9,155.6 403.7,158.8 404.9,160.4" fill="none"/>
<path d="M397.6,153.1 393.4,154.3 391.2,156.5 389,159.5 387.7,163.4 384.7,165.7 385.2,170.4 386.2,171.6 385.1,173.9 384.9,175.1 383.8,176.3" fill="none"/>
<path d="M408.7,179 411.9,179.3 414.7,180" fill="none"/>
<path d="M403.1,183.4 405.9,182.7 410.7,183.2 414,184.4" fill="none"/>
<path d="M408.7,188.7 409.9,191.8 408.7,193.1 409.8,194.8" fill="none"/>
<path d="M409.8,194.8 411,196.6 408.4,199.9 408.4,200.9" fill="none"/>
<path d="M409.8,194.8 412.4,193.8 417.5,194.8 420.5,194.8 423.6,195.3 425.8,193.3" fill="none"/>
<path d="M408.4,200.9 407.8,202.7 409.5,203.7 413.7,204.5 416.9,202.9" fill="none"/>
<path d="M416.9,202.9 419.8,202.9 422.5,205 424.6,207.8 421.2,210.1" fill="none"/>
<path d="M416.9,202.9 420.5,206.7 421.2,210.1 424.1,210.6" fill="none"/>
<path d="M422.6,214.7 419.2,213.7 415.1,214.7 410.2,213.4" fill="none"/>
<path d="M404.7,208.5 406.7,207.5 408,204.5 409.5,203.7" fill="none"/>
<path d="M407.8,202.7 403.6,203.2 401.2,204.2 397.9,203.7" fill="none"/>
<path d="M397.9,203.7 396.7,206.2 395.9,206.5" fill="none"/>
<path d="M396.6,207.5 399,209.1 401.9,209.1" fill="none"/>
<path d="M408.4,200.9 403.3,200.4 400.8,199.9" fill="none"/>
<path d="M400.8,199.9 397,197.8 394.9,197.1 392.5,196.3" fill="none"/>
<path d="M400.8,199.9 397.7,201.4 397.2,202.2 397.9,203.7" fill="none"/>
<path d="M397.2,202.2 393.3,201.1 390.9,201.6" fill="none"/>
<path d="M390.9,201.6 388.1,199.4 387.2,197.8 392.5,196.3" fill="none"/>
<path d="M392.5,196.3 391.8,193.6 390.6,188.8" fill="none"/>
<path d="M390.9,201.6 389.5,205 384.4,205 382.6,205" fill="none"/>
<path d="M378.5,204.7 379.5,201.1 375.9,199.9" fill="none"/>
<path d="M375.9,199.9 375.2,198.4 375,196.6 375.3,194.1 376.8,192.8 377.1,190.3" fill="none"/>
<path d="M379.6,186.4 382.1,186.6" fill="none"/>
<path d="M375,196.6 372.9,195.1 369.7,195.1" fill="none"/>
<path d="M368,195.8 371.4,198.6 374.7,199.9 375.9,199.9" fill="none"/>
<path d="M374.7,199.9 375.2,198.4" fill="none"/>
<path d="M377.4,209.1 377.1,211.1 377.6,213.4 378.6,214.5" fill="none"/>
<path d="M384.3,207.3 387.9,206.2 391.1,207.5" fill="none"/>
<path d="M391.1,207.5 395.9,206.5 396.6,207.5" fill="none"/>
<path d="M391.1,207.5 391.2,209.8" fill="none"/>
<path d="M391.1,210.1 394.6,210.1 396.6,207.5" fill="none"/>
<path d="M344.5,219.4 345.7,218.8 349.3,219.4 349.9,220.4 348.4,221.7 348.1,225.1 347,225.3 348,229 347,231.6" fill="none"/>
<path d="M359.2,215.5 364.5,217.3 369.7,218.1" fill="none"/>
<path d="M408.7,188.7 407.2,187.6 401,187.5" fill="none"/>
<path d="M411.1,218.3 409.9,216.5 410.2,213.4" fill="none"/>
<path d="M418.5,219.9 422,219.1" fill="none"/>
<path d="M597,198.9 600.1,199.9 601.9,198.4 601.1,197.1 601.1,194.6 601.4,193.6 600.5,192.3 598.9,191.6 599.6,190.3 601.7,190.1 604.3,189.8 607.8,190.6 610.1,191.6 616.8,196.8 619.3,199.1 623.4,200.1 627,201.9 629.4,204.2 632.5,204.2 633.6,203.2 636.3,202.4 636.9,204.7 636.8,205.7 638,208.5 638.3,211.1 635.5,210.6 634.1,211.4 636.2,213.7 637.7,216.8 636.6,216.8 637.4,218.1 637.8,218.3" fill="none"/>
<path d="M637.4,218.1 635.2,216.5 635.3,218.1 632.7,219.1 633.7,220.4 631.8,220.4 630.5,219.6 630,221.4 628.4,222.7 627.6,224.5" fill="none"/>
<path d="M608,272.6 604.9,271.8 603.6,269.7 600.4,267.9 598.8,269.2 596.6,269.5 594.8,269.5 593.8,270.2" fill="none"/>
<path d="M539.1,200.6 539.9,200.6" fill="none"/>
<path d="M593.8,270.2 595.3,272.1 596.7,274.4 599.5,274.5 600.7,276.8 599.5,277.6 598.9,278.3 601.9,279.9 604.2,283.1 606.1,285.4 608,287.2 608.9,289.1 608.8,291.7" fill="none"/>
<path d="M608.8,291.7 609.4,293.5 609.5,296.6 605.8,298.5 606.9,300.2 604.6,300.3 602.6,301.4 602.7,302.7" fill="none"/>
</g>
<path d="M343.6,232.1 342.7,227.7 344.1,223.8 344.6,221.2 343.5,216.5 345.7,215.2 348.4,214.7 352.6,215.2 355.1,215.2 359.2,215.5 360.3,212.6 360.7,209.6 360.5,208.3 358.5,205.7 356.9,204.7 353.9,203.9 353.5,202.7 355.9,201.6 359,202.2 360,201.9 359.4,199.4 360.8,200.1 363.2,199.9 366,198.4 366.2,196.3 368,195.8 369.7,195.1 371.1,193.6 372.2,191.1 373.7,190.1 376.7,190.1 379,189.6 379.7,188.8 380.3,187.8 379.6,186.1 378.5,184.6 378.4,181.9 379.3,181 383,179.5 382.6,182.2 383.8,182.7 382.2,184.9 381.7,186.1 382.4,187.3 384.4,188.6 386.7,188.1 389.1,187.3 390.6,188.8 394.9,187.3 398.8,186.8 401,187.6 401.6,186.4 403.4,185.4 403.1,183.2 402.8,181.2 403.9,179.7 406.6,181.2 409,180.7 408.8,178.3 406.9,177.1 406.5,175.9 409.3,175.1 414.9,175.1 418.9,174.2 415.6,172.5 414,172.7 409,173.5 405.5,174.4 402.1,172.5 401.7,170.4 401.5,166.8 403.4,165.2 406.1,162.7 407.5,162 406.6,160.8 404.9,160.4 401.7,160.8 400.9,163.4 399.5,165.2 396.2,167.3 394.2,168.5 394.4,171.6 394.7,172.5 397.5,173.7 398,174.9 396.6,175.6 394.2,177.6 394.1,180 393.5,182.9 390.7,183.4 390.3,185.1 388,185.1 387.2,183.2 385.4,179.5 383.8,176.3 382.6,174.4 381.6,176.3 378,178.5 375.4,178.5 373.2,176.3 372.2,173.2 372.1,170.4 372.9,168.7 375.6,167.3 378.1,165.7 381.5,165.7 382.3,162.7 384.7,159.9 387,157 389.3,155 390.8,153.6 393.8,151.6 397.8,150.8 400.9,149.7 405.2,148.6 408.9,148.8 414.2,150.1 411.2,151.4 414.2,151.4 418.1,152.3 423.3,152.7 428.1,154.7 433,156.5 434.3,158.8 432.4,159.7 428.9,159.7 423.4,158.8 419.8,158.3 423.2,161.1 424.4,163.4 428.7,164.7 430,163.4 434.3,163.1 432.8,161.1 435.6,159 439.2,159.5 438.5,156.5 436,154.1 440.8,154.7 442.8,157.6 444.9,156.3 452.8,155 454.4,154.7 455.9,154.3 459.9,153.8 464.3,154.3 464.8,152.1 470.1,152.5 473.8,153.2 476,154.1 479,155 479.1,153.6 474.6,151.6 472.8,148.8 473.2,145.6 474.5,144.1 479.1,145 481.8,148.8 485.5,153.2 486.6,157.6 489.9,158.8 488.6,155.4 488.9,153.2 485.1,148.8 483.6,145.6 488.9,146.3 492.5,146.7 496.6,147.7 499.9,149.9 499.5,147.3 500.5,142.9 501.9,139.4 508.1,138 515,137.4 518.6,135.1 524.6,136.6 531.2,137 536.6,138.8 541.9,142.5 533.5,144.1 536.9,142.9 542.1,143.3 550.3,143.5 558.2,143.5 564.5,143.5 571.3,146.3 576.1,148.8 579.6,147.7 586.4,148 588.1,145.6 590.8,145.2 598.1,145.8 606.7,147.3 614.1,149 620,148.6 629.4,151.6 633.1,151.9 640.1,152.1 642.1,151.2 649.2,153.2 646.7,151 655.7,151.4 665.5,153.4 678.8,162.2 678,162.9 675.4,162.9 677.9,164 684.5,166.8 685.8,168.5 682,169.7 679,171.6 677.4,173.9 670.1,173.2 665.7,174.2 668.8,177.6 667.9,179.3 674.1,183.2 675.9,186.6 676.1,190.6 673.9,191.3 674.9,195.6 675,196.3 669.9,192.3 662.8,186.1 658.7,181.2 658.9,178.8 659.4,175.1 660.2,170.4 658.2,168 655.2,171.6 647.5,170.4 650.7,175.6 645.9,176.3 642.8,175.1 634,175.6 627.8,175.9 626.5,179.3 625.9,183.6 624.3,186.6 630.3,188.6 633.8,188.1 639.9,191.1 641.5,194.8 644.2,198.6 647.4,202.4 647,207.5 645.5,211.4 643.3,216 639.7,216 637.8,218.3 637.1,220.4 637.9,222.2 635.4,224.3 635,225.6 637.9,227.9 641.8,231.6 643.7,234.7 644,236.8 640.9,238.1 638.5,238.6 636.4,233.4 635.8,230.8 634,230 631.6,229.5 630.6,226.1 627.6,224.5 623.8,226.6 622.4,227.4 621.6,223.5 619.3,221.9 617.6,224.8 614.7,226.9 617.6,229.5 619.5,231.3 622.6,230 626.9,231.1 624.6,233.1 622.6,236 622.7,237.8 626.4,241.2 629,243.8 631.7,245.9 632.2,248 629.9,249.6 633.6,250.9 633.7,254.8 632.3,257.7 631.1,260.8 630.2,262.9 628.4,265 626.1,267.9 622.5,269.5 620.9,270.5 618.4,271.3 615.2,272.6 613.1,273.4 613,275.7 611.4,272.6 608.3,272.1 607.3,272.6 605.3,274.4 604.5,276 603.4,279.1 605.5,282.3 608.2,285.7 610.2,287 612.3,290.9 613.5,294.8 613.6,298 611.1,300.6 608.8,301.6 608.3,304 605.3,306.1 604.1,306.3 604.4,303.2 603.1,301.6 600.8,301.1 599.5,299.3 599.1,298.2 596.9,296.1 594.5,295.6 594.1,293.5 592.1,294 592.2,297.4 591.1,300.6 591.1,304.5 593.1,306.6 594.4,309.7 596.8,311 598.3,312.6 600.4,314.4 601.5,317 601.9,321 603.6,325.1 602,325.4 599.6,323.3 596.8,321.2 595.1,317.8 594.2,314.4 593.6,312.1 592.1,309.7 589.3,308.1 589.3,304 589.5,301.6 589.2,297.4 587.8,292.2 586.2,288.3 585.6,285.7 583.1,285.7 580.6,287.5 578.3,287 578.2,283.1 576.6,279.1 575.1,276.5 572,274.4 570.3,270.5 567.3,270 565.3,271.8 564.2,272.1 562,272.3 560.1,274.7 559.2,276.5 556.4,277.8 554.1,281 550.7,285.4 548,287.5 546.3,288.8 546.4,293.5 547,294.8 546.2,298.7 546.4,301.9 544.7,304.5 542.9,305.5 541.4,307.6 539,305.3 538.1,302.7 535.8,298 534.4,294.8 533,290.9 530.8,287 528.4,279.1 527.7,275.2 527.2,272.6 526.5,273.9 523.4,274.7 518.9,270.8 521,269.2 518.1,267.9 516.6,266.8 514.4,264.8 512.9,263.7 512.3,262.4 507.8,262.9 502.3,263.2 501.3,262.9 497.7,262.7 493.1,261.9 490.5,258.7 488.8,257.7 485.7,259.5 481.5,258.2 477.9,255.9 475.9,253 473.8,249.9 471.5,249.3 470.7,250.4 469.4,250.4 470,251.7 470.7,254 471.9,256.4 474.2,258.7 475.4,260.1 475.7,262.1 477.2,264 477.3,260.6 478,260.6 478.9,263.4 478.6,264.8 481.1,265.5 484.5,265.5 485.6,264.8 487.2,262.7 488.5,260.8 489.3,259.8 489.7,263.4 490.3,264.8 492.5,266.6 495,267.1 498,270 496.6,273.9 494.5,275.5 494.1,279.1 491.6,281.7 488.4,284.4 486.1,284.4 482.8,285.9 479.6,289.1 475.1,291.7 470.6,293.5 466.1,295.3 462.7,295.6 462,294 460.8,289.6 460.4,285.9 458.1,281.7 454.9,277 451.7,272.6 449.8,267.4 446.6,263.4 443.5,258.7 441,255.3 440.5,251.7 438.5,247 439.1,246.2 439.8,243.1 440.6,240.2 441.3,238.4 440.8,236 441,234.7 441.3,233.1 439.8,233.1 437.7,232.6 435.6,234.4 433.4,234.4 430,232.6 429.1,232.6 428.8,233.9 426.9,234.2 424.6,232.6 422.4,232.9 421.8,230.8 419.9,228.7 420.3,226.9 418.9,225.6 418.8,224.3 421.4,223.2 424.6,223 424.6,221.7 425.4,221.2 429.6,221.2 433.1,219.1 436.7,219.1 440.2,220.9 444.6,221.9 447.7,221.7 450.6,220.4 450.8,218.8 448.9,216.5 446.6,215.5 444.2,213.9 440.7,212.1 439.4,210.6 441.2,208.8 441.6,206 442.6,205.7 439.7,206.2 436.8,207.3 434.9,208.3 436.3,210.6 438.4,210.6 436.3,211.4 433.6,212.9 432.3,212.4 430.1,210.3 432.1,208.5 428.7,208 427.6,207.3 425.9,207.5 424.1,210.3 422.5,213.9 422.8,215.5 421.4,216 420.7,217.8 422,219.1 422.5,220.4 424.3,221.2 422.3,221.7 420.3,222.5 418.7,223.5 418.1,222.2 414.9,221.9 414,223.5 413.7,224.4 411.6,223 411.1,224.8 412.1,226.4 413.2,228.7 414.6,229.5 414.6,230.3 412.5,230 412.6,231.3 413,233.4 411.5,233.4 409.9,232.6 408.8,230.3 408.7,228.7 407.5,227.1 406.1,225.3 404.4,223.2 404,220.9 403.9,219.4 401.8,217.8 399.6,216.5 397.5,215.2 394.8,213.7 393.8,211.4 392.5,210.6 391.1,211.4 391.2,209.8 388.4,210.3 388.7,212.6 391.2,215 392.8,217.8 395.7,219.4 396.7,219.4 396.8,220.7 400.1,221.9 402.3,223.8 402.2,224.8 399.1,223 398.4,225.1 399.6,226.9 398.4,228.4 396.7,229.7 396.8,227.7 397.3,225.6 396,224 393.8,222.7 393.1,222.2 390.5,221.2 388.7,219.6 386.1,217.8 384.5,215.2 383.4,213.7 381.5,212.9 378.6,214.5 376.6,216.3 374.3,215.7 371.4,215.2 369.3,216.5 369.7,218.1 369.7,219.4 367.6,220.7 364.9,221.7 363.4,224.3 362.4,225.6 363.4,227.7 361.9,228.7 361.5,230.5 358.2,232.9 353.5,232.9 351.3,234.4 349.4,233.4 347,231.6 345.7,232.1Z M60.5,153.4 61.5,153.8 63.5,155.9 66,157.6 67.8,158.8 68.8,159.7 64.6,161.1 58.8,163.4 56.9,163.8 55.4,162.7 55.9,161.1 51.5,161.1 48.8,161.7 47.2,162.2Z" fill="none"/>
<path d="M460,210.1 463.5,207.5 467.2,206.2 471.5,207 472.5,210.6 468.5,211.4 468.9,212.9 467.4,212.6 469.8,216.5 473.1,217.3 473.7,219.9 476.9,221.7 475.8,224.3 476.2,226.1 479.4,231.3 479.2,232.6 475.4,233.1 471.4,231.3 468.5,230.5 467.9,228.4 468.3,226.1 468.1,223.2 469.9,223.5 468,222.5 466.5,220.4 464.1,219.1 462.5,216.5 461.9,213.9 459.9,212.6Z" fill="#fff"/>
<g clip-path="url(#c_borneo)">
<path d="M614.7,328 615.3,324.4 617,324.4 619.7,324.6 620.1,322 623.8,320.4 625.9,316.8 627,316 629.3,314.4 630.8,312.3 632.5,310.5 634.2,312.3 637.8,315.2 635.9,317.3 634.3,317.8 635.1,321 635,324.1 637.8,326.2 635.2,326.7 634.3,328.8 634.1,330.9 632,332.7 631.2,336.4 630.6,338.7 627.6,339.5 627.2,337.7 623.8,337.4 621,337.7 617.3,336.4 617,333 615.1,330.4Z" fill="#00562f" stroke="none"/>
<path d="M616,323 616.3,325.1 618.1,326.4 621.1,326.2 622,325.1 625.3,325.4 627.6,324.9 628.5,322.3 629.7,319.7 629.7,317.8 634.3,317.8 639.8,318.3 639.2,307.9 627.7,307.9 621.4,318.3Z" fill="#006837"/>
<path d="M626.2,316.8 627.4,318.3 629,317.6 628.6,315.7 627.2,315.2Z" fill="#addd8e"/>
</g>
<path d="M614.7,328 615.3,324.4 617,324.4 619.7,324.6 620.1,322 623.8,320.4 625.9,316.8 627,316 629.3,314.4 630.8,312.3 632.5,310.5 634.2,312.3 637.8,315.2 635.9,317.3 634.3,317.8 635.1,321 635,324.1 637.8,326.2 635.2,326.7 634.3,328.8 634.1,330.9 632,332.7 631.2,336.4 630.6,338.7 627.6,339.5 627.2,337.7 623.8,337.4 621,337.7 617.3,336.4 617,333 615.1,330.4Z" fill="none"/>
<g clip-path="url(#c_ng)">
<path d="M665.9,330.9 668.9,329.8 672.4,330.9 672.8,334.8 674.5,337.4 678.1,334.6 681.6,333 686.2,335.1 688.5,335.6 693,337.7 696.4,338.7 699.1,342.7 702.3,344.5 703.5,346.3 701.6,346.6 703.6,350.2 706.7,353.9 709.5,355.7 707.6,356.5 703.1,355.2 701,353.6 699,350.2 695.7,348.9 693.3,350.5 691.9,352.8 687.3,352.6 684.1,350 681,350.8 682.7,347.6 681.1,343.2 676.7,340.8 672.2,339 669.8,339.5 669.5,336.1 671.9,334.8 668.4,334.8 665.5,332.5Z" fill="#00562f" stroke="none"/>
<path d="M688.6,331.4 687.9,345.8 687.6,346.8 687.7,347.6 686.8,357.6 712,357.6 707,334Z" fill="#41ab5d"/>
</g>
<path d="M665.9,330.9 668.9,329.8 672.4,330.9 672.8,334.8 674.5,337.4 678.1,334.6 681.6,333 686.2,335.1 688.5,335.6 693,337.7 696.4,338.7 699.1,342.7 702.3,344.5 703.5,346.3 701.6,346.6 703.6,350.2 706.7,353.9 709.5,355.7 707.6,356.5 703.1,355.2 701,353.6 699,350.2 695.7,348.9 693.3,350.5 691.9,352.8 687.3,352.6 684.1,350 681,350.8 682.7,347.6 681.1,343.2 676.7,340.8 672.2,339 669.8,339.5 669.5,336.1 671.9,334.8 668.4,334.8 665.5,332.5Z" fill="none"/>
<path d="M281.9,174.4 278.7,172.3 274.6,171.1 272.6,166.8 271.8,162.2 270.8,157.6 274.4,154.3 272.9,150.3 274,146.7 273.8,141.4 271.1,138.4 261.9,138.4 256.8,137.2 256.1,134.5 264.2,132.1 270.5,129.9 279.4,127.8 293.9,127 308.6,125.4 318.4,125 328.9,125.9 335.2,127.4 346.2,128.2 337.9,130.8 333.6,133.6 334.1,137.4 330.1,141.4 327.6,145.6 324.6,148.2 326.1,150.3 319.4,153.2 312.2,155 304.3,158.8 296.8,160.6 292.5,163.4 287.8,168 285,171.6Z" fill="url(#hatch)" class="nd"/>
<path d="M323.1,164.7 327.4,165.7 330.9,165.7 336.5,163.8 339.1,162.2 337.4,159.5 334.5,158.8 330.9,159.7 327.5,159.7 324.1,159 321.2,160.8 324.2,161.5 320.9,162.4 324.2,163.6Z" fill="#f7fcb9"/>
<path d="M252.9,194.6 252,197.3 255.5,199.6 255.7,202.4 255.6,205 253.4,207 250.6,206.2 249,204.7 242.3,204.5 245.4,201.1 248.7,197.1 250.9,195.1Z M107.3,196.6 111.4,197.3 112.6,199.1 113.2,202.4 111,202.4 109.1,200.6 107.1,198.4Z M104.6,188.3 107,188.6 104.5,192.8 103.3,191.6Z M257.3,158.6 251.6,162.2 246.1,166.1 245.3,169.4 240.4,168.5 235.6,167.3 234,163.8 230.7,163.4 225.3,163.6 227.5,161.5 233.6,161.5 236.1,158.8 239.2,156.5 237.2,154.3 234.9,151.4 232.4,150.3 226.8,151.2 222,151 218,149.7 217.2,147.7 219.2,144.6 223.9,142.9 228.7,142.9 234.8,143.1 238.4,144.6 241.1,145.2 245.9,147.5 249.7,150.3 250.5,153.2 253.7,156.5Z M210.9,161.5 217.1,160.1 218.7,162.9 220.4,165 214.8,166.1 210.5,165.9 208.8,164.5Z M170.8,147.7 176.9,144.6 183.6,145 190.9,144.1 195.3,144.6 191.2,147.7 195.8,148.8 195.4,151 190.7,153.4 184.9,153.4 177.5,154.1 171.6,154.1 168.9,152.5 168.4,151 176.4,150.1 172.4,149.2Z M159.9,146.7 166.7,143.1 173.6,141.4 178.3,142.1 179.2,143.9 170.4,146.7 165.7,148 161.1,148.4Z M184.3,138 190.7,137.8 197.6,138.4 198.7,140 194.4,141 186.4,141.2 183.5,139.8Z M199.2,144.6 206.5,142.9 208,144.6 205.6,147.1 200.9,147.7 198.3,146.3Z M212.5,142.5 218,142.5 219,143.9 214.9,145.8 208.8,146.3Z M204.4,137.8 211.5,137 212.8,139.2 207.6,140.4 203.8,139.6Z M216.8,137 223.6,137 229,137.6 237.4,138.4 240,139.8 236.2,141.4 225.2,141.4 219.6,140.8 219.7,139.2Z M225.1,137 232.8,134.1 237.9,132.3 238.8,130.2 235.2,128.6 245.6,127 260.7,125.7 272.7,126 277.3,127 271.3,129.1 262.9,130.4 255.5,132.1 250.6,134.1 245.9,135.9 240.1,138 232.1,137.6Z M224.8,131.1 232.2,128.7 235.1,129.7 236.4,131.7 231.8,133.8 227.5,133Z M233.7,198.9 237.4,199.6 238.6,200.9 235.1,200.4Z M231.4,206.7 235.8,207.8 234.4,208.8 231.6,208Z" fill="#f7fcb9"/>
<path d="M70.5,181.2 75.6,180 77.3,178 73.8,179Z M56.8,165.9 60.7,165.2 61.3,166.4 57.7,166.8Z M55.1,173.5 58.3,173.2 56.7,174.4 54.5,174.4Z" fill="#f7fcb9"/>
<path d="M171.1,271.6 174.6,268.9 178.1,268.2 181.5,268.4 184.6,270.2 187.8,271.8 191,273.4 194.8,275.7 192.9,276.8 186.7,276.9 188.1,275 185.3,273.9 182.1,271.8 178.2,270.8 176.8,269.5 174.4,270.8Z" fill="#d9f0a3"/>
<path d="M184.7,281 186.8,280.4 189.4,281.5 188.2,282.1 185.9,282.3Z" fill="#addd8e"/>
<path d="M193.6,280.7 195.8,281.2 198.1,281.2 199.7,281.7 200.2,277.3 197.9,276.7 196.4,277.3 197.7,278.3 198.2,280.2 195.9,280.2Z" fill="#addd8e"/>
<path d="M199.7,281.7 200.2,277.3 202.4,276.8 204.4,277.6 206.3,278.6 207.7,280.2 206.1,280.7 203.8,281 202.2,281 200.9,282.5Z" fill="#d9f0a3"/>
<path d="M210.2,280.4 213.8,280.7 213.2,281.9 210.1,281.9Z" fill="url(#hatch)" class="nd"/>
<path d="M187.2,262.9 188.3,262.9 188.4,265.5 187.5,265.3Z M188.8,258.5 190.7,259.3 190.2,260.8 189.5,259.5Z" fill="#d9f0a3"/>
<path d="M220.8,300.8 222.9,300.6 222.8,302.4 220.7,302.4Z" fill="#d9f0a3"/>
<path d="M221.7,286.5 222.5,285.7 223.1,286.5 222.4,287.2Z M222.8,290.6 223.5,289.9 224.2,290.6 223.4,291.4Z M222.3,288.5 222.9,288 223.3,288.5 222.8,289.1Z M222.9,292.5 223.4,291.9 223.9,292.5 223.3,293Z M222.3,294.3 222.8,293.7 223.3,294.3 222.8,294.9Z M225.9,294.4 226.5,293.9 226.9,294.4 226.4,295Z M221,297.2 221.5,296.6 222,297.2 221.4,297.7Z M219.4,283.6 220,283 220.4,283.6 219.9,284.2Z M221.7,284.1 222.2,283.5 222.7,284.1 222.1,284.7Z" fill="#addd8e"/>
<path d="M476.1,360.2 477.9,365.4 478.4,369.3 476.5,373.2 475.3,377.2 472.8,383.7 469.9,391.5 468.6,394.2 464.4,395.7 461.9,394.2 460.8,387.6 463.5,381.1 463.1,375.9 464.6,371.1 468.7,369.8 472.6,365.4 474.9,361.5Z" fill="#41ab5d"/>
<path d="M308.4,289.3 309.1,288.5 309.7,289.3 309,290.1Z M307.1,285.4 307.6,284.8 308.1,285.4 307.6,286Z M310.2,286.7 310.7,286.1 311.2,286.7 310.7,287.3Z" fill="#78c679"/>
<path d="M377.7,328.1 378.2,327.5 378.8,328.1 378.2,328.8Z" fill="#addd8e"/>
<path d="M461.8,359.4 462.5,358.6 463.2,359.4 462.4,360.2Z M464.3,360.7 464.9,360.1 465.3,360.7 464.8,361.3Z" fill="#00562f"/>
<path d="M492.8,381.9 493.5,381.1 494.1,381.9 493.4,382.6Z" fill="#41ab5d"/>
<path d="M487.9,384 488.7,383.2 489.3,384 488.6,384.7Z" fill="url(#hatch)" class="nd"/>
<path d="M501.6,456.5 503.7,455.7 505.1,457 504,458.2 502.1,458Z" fill="url(#hatch)" class="nd"/>
<path d="M351.6,198.4 356,197.8 360,196.8 363.6,196.6 365.8,195.6 364.6,194.6 366.3,192.1 363.8,191.1 363.2,189.6 362.6,188.1 360.3,186.1 359.2,184.1 357.3,183.6 358.8,181.7 359.6,179.7 356.4,179.5 355.5,178.3 357.2,177.3 353.7,177.3 352.1,179.7 352.3,182.4 351,183.6 352.8,184.9 353.5,186.6 356.2,186.4 357.2,188.6 356.9,190.1 354.2,190.3 354.7,192.3 352.7,193.8 354.7,194.6 357,195.1 354.4,196.1 352.6,197.6Z M347.3,187.3 348.9,186.1 351.1,185.4 352.4,187.1 351.1,188.6 348.8,188.3Z" fill="#f7fcb9"/>
<path d="M351.1,188.6 350.9,190.3 351.2,192.8 348.2,193.6 343.6,194.8 342.7,193.1 344.4,191.1 343.6,188.1 346.5,187.8 347.3,187.3 348.8,188.3Z M347.3,187.3 346.6,186.1 349,185.4 348.9,186.1Z" fill="#ffffe5"/>
<path d="M389.6,229.5 391.5,229 396.5,228.7 395.6,232.1 393.9,232.4 389.9,230.5Z M380.4,221.9 382.7,221.2 383.6,223.5 383.3,226.6 381.2,227.1 380.9,224.3Z" fill="#f7fcb9"/>
<path d="M381.1,218.1 382.7,216.5 383,219.1 382.4,220.7 381.4,219.9Z" fill="#f7fcb9"/>
<path d="M414.3,236 416.2,236.3 420.2,236.5 420,237.3 416.8,237.6 414.1,236.8Z" fill="#d9f0a3"/>
<path d="M433.3,237.3 434.7,236.3 438.1,235.5 437,237.3 435,238.4Z" fill="#d9f0a3"/>
<path d="M384.3,184.4 387.1,183.4 387,185.4 385.6,186.4 384,185.6Z M381.8,184.9 383.5,184.9 383.6,186.1 382.3,186.1Z" fill="#f7fcb9"/>
<path d="M379.1,132.6 386,131 394.4,130.2 401.6,130.4 397.9,132.1 392.4,133.6 395.9,135.5 388.8,137.2 383.9,135.5 380.7,133.9Z" fill="#f7fcb9"/>
<path d="M446.8,147.5 448.5,146 450.4,143.7 451.9,140.8 454.9,138.4 461.3,136.8 466.6,136.8 464.4,138.8 457.8,140.4 455,143.5 455.3,146.7 457.6,149.5 452.7,149.5 449.1,148.8Z M492.9,130.2 496.6,128.7 504.3,130.2 512.6,132.1 518.6,133.8 516.1,134.7 509.2,133.4 502.7,132.3Z M574,139.6 575.6,138.2 582.7,138.8 588.6,139.6 595.5,140 594.8,141 587.2,140.6 582,140.8 577,140.6Z M584,142.7 587.9,142.7 591.3,143.9 586.3,143.7Z M427.7,129.9 432.3,129.2 437.8,129.1 441.7,129.6 438.8,130.4 433.2,130.6 429.6,130.6Z M654.9,148.4 656.2,147.7 658.4,149 657.1,149.2Z" fill="#addd8e"/>
<path d="M658.8,220.4 660.2,219.6 659.5,217.8 664.7,219.4 667.6,215.5 665,213.2 661.4,213.4 655.3,210.1 657.1,212.6 658.4,215.7 656.5,216 656.6,217.8Z M661.7,220.7 663.4,223 665.9,225.6 666.6,228.7 666.2,230 667.4,232.6 668.6,235.5 667.7,237.6 666.6,236.3 665.8,238.4 664.3,238.4 661.7,238.4 661.6,239.1 660.4,241.2 658,239.4 657.7,238.1 655,238.1 653.3,239.1 651.8,239.1 649.1,240.1 649.6,238.1 651.3,236 654.6,235.7 657.2,235.7 657.8,234.7 658.3,232.1 658.7,230.8 659.4,232.6 661.4,231.1 662,228.2 661.2,224.8 660,222.7 659.7,221.2Z M652.9,240.7 655.8,238.9 657.6,240.4 657.1,241.8 655.1,243.3 653.1,241.8Z M649.2,240.2 651.3,241 652.8,243.1 652.9,246.7 651.8,247.8 650.4,247 649.2,243.8 647.6,242.5 648.4,241Z" fill="#f7fcb9"/>
<path d="M635.8,262.7 637.1,263.4 636.5,266.1 636.2,271.3 634.2,269.2 633.6,267.1 634.6,264.2Z" fill="url(#hatch)" class="nd"/>
<path d="M609.8,278.3 611.3,276.5 614,276.3 614.9,277.6 614,280.4 612.1,281.2 610.1,280.2Z" fill="#addd8e"/>
<path d="M638.4,187.8 642.1,189.8 646,193.6 650.6,198.6 655.5,201.9 653.8,205 656.9,207 658.2,208.8 654.8,207 655.1,208.8 652.3,205 649.5,201.1 645.9,196.1 642.2,192.8 640,190.1Z" fill="#addd8e"/>
<path d="M546.5,303.7 547.6,303.2 549.8,306.6 551.4,309.2 551.2,311.8 548.8,313.4 547.4,312.6 546.5,307.9Z" fill="#78c679"/>
<path d="M637.2,280.4 640.4,280.4 641.8,284.4 640.6,287 641.1,290.4 643.3,291.7 645.7,292.7 647.5,295.9 645.6,294.8 643.6,293.5 641.6,292.5 639,291.7 638.8,290.1 637.5,289.6 636.4,286.2 637.4,285.4 637.2,283.1Z M638.8,293.8 640.6,293.8 641.6,295.9 640.8,296.9 639.4,295.3Z M632.7,306.8 637.5,301.4 637.8,299 637,300 633.3,305.3Z M648,296.1 650.3,296.1 651.6,299.5 650.7,302.1 649.6,302.1 648.6,299Z M642.9,298 645.5,298.7 645.5,300.3 643.3,301.4Z M644.6,300.6 646.7,300.6 648,302.7 646.6,305 644.6,303.2Z M644,310.8 644.5,307.9 647.2,306.3 649.9,306.6 651.5,303.2 653.6,306.6 654.6,309.7 653.8,312.3 652.1,314.2 651.9,311 648.8,312.6 648.6,309.7 647.2,309.5Z" fill="#78c679"/>
<path d="M582.7,314.2 587.8,315.2 590.7,318.9 594.8,322.8 598,324.4 601.8,327.5 602.7,331.4 604.5,333.8 607.6,336.6 607.3,340 606.9,344 604.1,344.2 603.5,341.9 599,339 596.1,335.1 594.6,330.9 591.6,327.5 590.9,324.4 588.5,322.5 585.7,319.1 582.7,315.2Z M605.3,346.6 607.3,344.2 609.6,344.2 613,346.3 617.5,346.8 618.8,345.5 622.6,346.8 626.6,348.9 626.2,351.5 621.9,350.8 616.2,349.7 612.8,349.2 608.2,348.1Z M626.5,350 629.3,350.2 628.7,351.8 626.7,351.3Z M630,350.5 631.6,350.8 631,352.1 629.9,351.8Z M631.8,350.8 636.9,350.5 636.8,351.8 632.1,352.3Z M638.7,350.8 645.6,350.2 646,351.3 639.1,351.8Z M636.6,353.4 640.7,354.4 639.2,355.7 636.6,354.4Z M646.8,355.7 649.1,352.8 650.5,352.3 650.7,353.6 649.1,355.5Z M639.6,326.7 642.1,325.4 647,326.4 650.4,325.1 652.1,324.6 650.5,327.5 647,327.8 642.4,327.8 640.3,331.2 643.5,331.2 647.7,330.9 647.9,331.4 644.7,333.2 643.5,334 645.2,337.4 646.7,339.8 646.2,341.6 643.7,341.1 643.3,339.3 642,336.1 640.8,337.9 640.3,343.2 638.5,343.4 638.7,337.9 637.2,336.1 638.4,331.9 639.6,328.8Z M657.4,324.1 658.5,323 660.1,324.9 659.2,327.5 660.4,328 659.2,330.9 658.1,329.3 657.6,326.4Z M658.4,336.6 661.9,336.1 664.9,337.2 664.1,338.7 660.2,337.9Z M653.8,337.2 656.1,336.9 656.5,338.2 654.4,338.7Z" fill="#00562f"/>
<path d="M650.5,352.3 656,350.8 654,352.3 650.7,353.6Z" fill="#78c679"/>
<path d="M704.8,343.7 708.9,341.9 712.5,339.8 714.3,340 713.4,343.2 709.8,345 706.4,345Z M711.1,335.6 714.8,338.7 715.9,341.1 715,339.8 712.6,337.2Z M719.4,342.7 721.4,344.5 722.1,346.6 720.8,346.1Z" fill="#41ab5d"/>
<path d="M723.7,347.1 725.7,348.4 724.9,348.9Z M727.9,348.7 730.7,350.8 730,351Z M730,353.1 732.7,354.4 731.5,354.7Z M732.8,351 733.9,353.6 733.2,353.4Z M733.6,355.7 735.8,357 734.7,356.8Z" fill="#41ab5d"/>
<path d="M743.9,367.5 745,369.3 744,369.6Z M744.7,370.6 745.8,371.9 744.9,371.9Z" fill="#238443"/>
<path d="M734.9,381.3 737.7,383.7 740.3,386.8 739.1,387.1 736.2,385Z" fill="url(#hatch)" class="nd"/>
<path d="M766.8,374.8 769.7,375.1 768.4,376.4 766.4,376.1Z M770.9,371.7 773.8,371.1 772.5,372.7 770.4,373Z" fill="#238443"/>
<path d="M690.3,356.8 692,361.5 692,366.2 695.2,368 694.9,371.9 695.3,377.9 697.9,379.5 700.3,381.9 700.8,386.3 703,389.7 705.6,394.2 706.4,396.8 705.1,402.5 704.9,403.6 701.6,408.5 698.2,413.8 693.9,417.2 689.9,421.6 686.5,426 685.8,426.8 681.1,427.9 675.9,431 674,429.2 673.9,428.1 670.2,430.2 666.6,428.9 664.9,428.1 664.8,425 664.8,421.9 663.7,421.9 664.7,419.8 665.5,415.1 663.5,417.7 660.5,420.8 659.3,419.8 658.3,419.5 657.4,415.1 656.9,412.7 652.4,411.1 647.3,411.7 640.1,413.2 635,415.1 633,417.4 629.5,417.4 625.4,417.4 619.6,420.3 615.7,419.8 614.3,418.5 616.6,415.8 617.8,412.4 617.5,408.5 618,404.1 617.5,400.7 616.7,397 618.8,395.5 618.3,392.8 619.9,387.6 621.2,385.8 624.3,385 627.6,382.6 631.8,381.9 637.6,380 641.2,375.6 643.4,371.7 645.9,371.4 647.5,368.8 650.8,366.2 653.7,365.1 656.1,367.5 659.1,367.7 660.3,364.1 662.7,361.2 666.9,360.4 667.4,358.3 669.3,359.6 673.1,360.7 677,361 674.5,364.1 672.8,368 675.8,370.1 679.9,372.7 681.4,374.5 683.7,374.3 686.2,369.3 687.5,364.1 688.2,360.7 689.3,357.3Z M669.8,435.1 673,436.2 677.1,435.4 675.3,438.5 672.4,441.6 669.3,442.6 667.9,442.4 668.5,439.3 669.1,436.7Z" fill="#ffffe5"/>
<path d="M739.8,418.7 740,420.3 741.3,422.9 740.6,425 742.9,424.7 741.8,427.1 743.7,428.1 747.3,427.3 743.7,430.7 740.8,431.8 739.1,433.8 732.9,437.5 732.3,436.7 734.7,434.6 735.6,433.1 734.1,431.5 736.9,429.9 738.9,427.6 739.8,424.2 739.6,420.3Z M729.6,434.6 731.2,435.9 730.6,437.7 725.3,441.1 723.6,442.6 719,444.4 714.7,448.3 710.5,450.3 707.9,450.3 706.1,449.3 706.1,448 710,445.7 713.4,443.7 718.8,441.3 723.3,439 727.1,435.9Z" fill="#ffffe5"/>
<path d="M9.3,276 11.3,277 9.7,279.1 8.9,277.8Z M5.2,272.3 6.2,272.9 5.5,273.1Z" fill="#f7fcb9"/>
</g>
<g id="legend">
<rect x="166.30" y="537.3" width="58.52" height="11.2" fill="#ffffe5" stroke="#8e8e8e" stroke-width="0.6"/>
<rect x="224.82" y="537.3" width="58.52" height="11.2" fill="#f7fcb9" stroke="#8e8e8e" stroke-width="0.6"/>
<rect x="283.34" y="537.3" width="58.52" height="11.2" fill="#d9f0a3" stroke="#8e8e8e" stroke-width="0.6"/>
<rect x="341.86" y="537.3" width="58.52" height="11.2" fill="#addd8e" stroke="#8e8e8e" stroke-width="0.6"/>
<rect x="400.38" y="537.3" width="58.52" height="11.2" fill="#78c679" stroke="#8e8e8e" stroke-width="0.6"/>
<rect x="458.90" y="537.3" width="58.52" height="11.2" fill="#41ab5d" stroke="#8e8e8e" stroke-width="0.6"/>
<rect x="517.42" y="537.3" width="58.52" height="11.2" fill="#238443" stroke="#8e8e8e" stroke-width="0.6"/>
<rect x="575.94" y="537.3" width="58.52" height="11.2" fill="#006837" stroke="#8e8e8e" stroke-width="0.6"/>
<rect x="634.46" y="537.3" width="58.52" height="11.2" fill="#00562f" stroke="#8e8e8e" stroke-width="0.6"/>
<rect x="692.98" y="537.3" width="58.52" height="11.2" fill="#004529" stroke="#8e8e8e" stroke-width="0.6"/>
<line x1="166.30" y1="534" x2="166.30" y2="548.5" stroke="#8e8e8e" stroke-width="0.6"/>
<text x="166.30" y="530.6" text-anchor="middle">0%</text>
<line x1="224.82" y1="534" x2="224.82" y2="548.5" stroke="#8e8e8e" stroke-width="0.6"/>
<text x="224.82" y="530.6" text-anchor="middle">10%</text>
<line x1="283.34" y1="534" x2="283.34" y2="548.5" stroke="#8e8e8e" stroke-width="0.6"/>
<text x="283.34" y="530.6" text-anchor="middle">20%</text>
<line x1="341.86" y1="534" x2="341.86" y2="548.5" stroke="#8e8e8e" stroke-width="0.6"/>
<text x="341.86" y="530.6" text-anchor="middle">30%</text>
<line x1="400.38" y1="534" x2="400.38" y2="548.5" stroke="#8e8e8e" stroke-width="0.6"/>
<text x="400.38" y="530.6" text-anchor="middle">40%</text>
<line x1="458.90" y1="534" x2="458.90" y2="548.5" stroke="#8e8e8e" stroke-width="0.6"/>
<text x="458.90" y="530.6" text-anchor="middle">50%</text>
<line x1="517.42" y1="534" x2="517.42" y2="548.5" stroke="#8e8e8e" stroke-width="0.6"/>
<text x="517.42" y="530.6" text-anchor="middle">60%</text>
<line x1="575.94" y1="534" x2="575.94" y2="548.5" stroke="#8e8e8e" stroke-width="0.6"/>
<text x="575.94" y="530.6" text-anchor="middle">70%</text>
<line x1="634.46" y1="534" x2="634.46" y2="548.5" stroke="#8e8e8e" stroke-width="0.6"/>
<text x="634.46" y="530.6" text-anchor="middle">80%</text>
<line x1="692.98" y1="534" x2="692.98" y2="548.5" stroke="#8e8e8e" stroke-width="0.6"/>
<text x="692.98" y="530.6" text-anchor="middle">90%</text>
<line x1="751.50" y1="534" x2="751.50" y2="548.5" stroke="#8e8e8e" stroke-width="0.6"/>
<text x="751.50" y="530.6" text-anchor="middle">100%</text>
<rect x="98.6" y="537.3" width="47.8" height="11.2" fill="url(#hatch)" stroke="#a8a8a8" stroke-width="0.7"/>
<line x1="122.5" y1="534" x2="122.5" y2="537.3" stroke="#b5b5b5" stroke-width="0.6"/>
<text class="nd" x="122.5" y="530.6" text-anchor="middle">No data</text>
</g>
</svg>
<h1>Share of population who haver never drunk alcohol, <span class="yr">2020</span></h1>
<p id="sub">Lifetime abstinence is defined as the proportion of adults (15+ years) in a given population who have not<br>consumed any alcohol during their lifetime.</p>
<div id="logo"><span>Our World</span><span>in Data</span></div>
<p id="src"><b>Data source:</b> World Health Organization - Global Health Observatory (2025)</p>
<p id="url">OurWorldinData.org/alcohol-consumption | CC BY</p>
</body>
</html>
